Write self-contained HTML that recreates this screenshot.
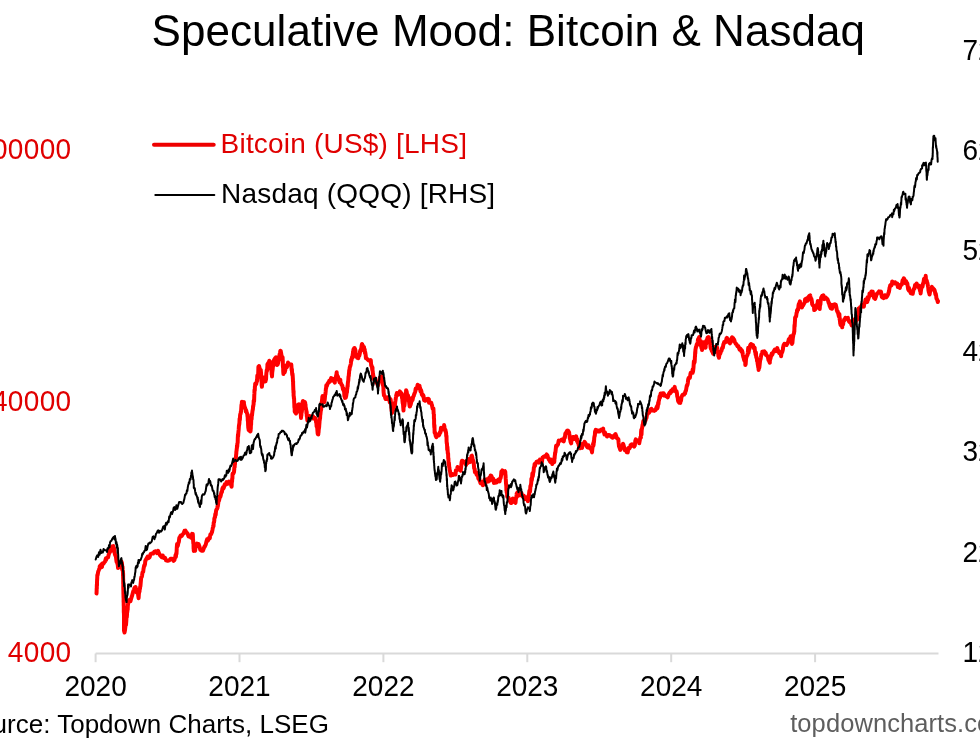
<!DOCTYPE html>
<html><head><meta charset="utf-8"><title>Speculative Mood: Bitcoin &amp; Nasdaq</title>
<style>
html,body{margin:0;padding:0;background:#fff;}
body{width:980px;height:743px;overflow:hidden;}
svg{display:block;font-family:"Liberation Sans", Arial, sans-serif;}
</style></head><body>
<svg width="980" height="743" viewBox="0 0 980 743">
<rect width="980" height="743" fill="#fff"/>
<text x="508.3" y="46.3" text-anchor="middle" font-size="44" letter-spacing="0.05" fill="#000">Speculative Mood: Bitcoin &amp; Nasdaq</text>
<path d="M95.6 653.5 H938.5" stroke="#d9d9d9" stroke-width="2" fill="none"/>
<path d="M95.6 653.5 V662.2" stroke="#d9d9d9" stroke-width="2" fill="none"/>
<path d="M239.5 653.5 V662.2" stroke="#d9d9d9" stroke-width="2" fill="none"/>
<path d="M383.4 653.5 V662.2" stroke="#d9d9d9" stroke-width="2" fill="none"/>
<path d="M527.3 653.5 V662.2" stroke="#d9d9d9" stroke-width="2" fill="none"/>
<path d="M671.2 653.5 V662.2" stroke="#d9d9d9" stroke-width="2" fill="none"/>
<path d="M815.1 653.5 V662.2" stroke="#d9d9d9" stroke-width="2" fill="none"/>
<text transform="translate(95.6 696.3) scale(1 1.06)" text-anchor="middle" font-size="28" fill="#000">2020</text>
<text transform="translate(239.5 696.3) scale(1 1.06)" text-anchor="middle" font-size="28" fill="#000">2021</text>
<text transform="translate(383.4 696.3) scale(1 1.06)" text-anchor="middle" font-size="28" fill="#000">2022</text>
<text transform="translate(527.3 696.3) scale(1 1.06)" text-anchor="middle" font-size="28" fill="#000">2023</text>
<text transform="translate(671.2 696.3) scale(1 1.06)" text-anchor="middle" font-size="28" fill="#000">2024</text>
<text transform="translate(815.1 696.3) scale(1 1.06)" text-anchor="middle" font-size="28" fill="#000">2025</text>
<text transform="translate(71.5 159.4) scale(1 1.06)" text-anchor="end" font-size="28" letter-spacing="0.35" fill="#e00000">400000</text>
<text transform="translate(71.5 411.2) scale(1 1.06)" text-anchor="end" font-size="28" letter-spacing="0.35" fill="#e00000">40000</text>
<text transform="translate(71.5 662.1) scale(1 1.06)" text-anchor="end" font-size="28" letter-spacing="0.35" fill="#e00000">4000</text>
<text transform="translate(962.5 60.2) scale(1 1.06)" font-size="28" fill="#000">725</text>
<text transform="translate(962.5 160.2) scale(1 1.06)" font-size="28" fill="#000">625</text>
<text transform="translate(962.5 259.8) scale(1 1.06)" font-size="28" fill="#000">525</text>
<text transform="translate(962.5 360.6) scale(1 1.06)" font-size="28" fill="#000">425</text>
<text transform="translate(962.5 461.3) scale(1 1.06)" font-size="28" fill="#000">325</text>
<text transform="translate(962.5 561.6) scale(1 1.06)" font-size="28" fill="#000">225</text>
<text transform="translate(962.5 662.3) scale(1 1.06)" font-size="28" fill="#000">125</text>
<path d="M154 144.8 H213.7" stroke="#ee0000" stroke-width="4" stroke-linecap="round" fill="none"/>
<path d="M155.3 195 H214.3" stroke="#000" stroke-width="2" stroke-linecap="round" fill="none"/>
<text x="220.6" y="153.1" font-size="28" letter-spacing="0.2" fill="#e00000">Bitcoin (US$) [LHS]</text>
<text x="221" y="203" font-size="28" letter-spacing="0.2" fill="#000">Nasdaq (QQQ) [RHS]</text>
<text x="-39.2" y="732.8" font-size="26" fill="#000">Source: Topdown Charts, LSEG</text>
<text x="790.2" y="732.3" font-size="25.5" letter-spacing="0.08" fill="#5e5e5e">topdowncharts.com</text>
<polyline points="96.5,593.5 96.6,592.1 96.6,592.3 96.7,588.2 96.8,588.7 96.8,586.0 96.9,584.1 97.0,585.6 97.0,582.5 97.1,580.2 97.1,579.6 97.2,578.9 97.3,576.0 97.3,575.0 97.6,575.1 98.2,571.6 98.7,570.4 99.2,569.0 99.7,568.5 99.7,566.3 101.0,564.9 102.0,567.0 102.2,563.6 102.9,564.2 103.6,563.5 104.4,562.2 105.1,561.4 105.9,558.3 106.0,560.0 106.6,558.2 107.3,557.7 108.1,557.4 108.8,554.1 109.5,552.8 110.2,549.3 111.0,549.4 111.0,551.0 112.1,546.5 113.3,546.1 113.4,549.0 113.8,550.9 114.3,548.8 114.7,553.4 115.2,555.1 115.7,555.7 116.0,557.0 116.1,558.0 116.3,559.8 116.6,562.1 116.9,562.0 117.1,562.5 117.4,563.7 117.7,564.6 118.0,567.2 118.0,568.0 118.8,565.8 119.7,567.0 120.6,562.4 121.5,563.6 121.5,561.5 121.8,563.2 122.0,563.1 122.2,569.8 122.5,566.7 122.7,569.9 122.9,571.5 123.0,573.0 123.0,576.1 123.1,573.4 123.1,577.9 123.1,577.8 123.2,579.6 123.2,580.5 123.2,583.7 123.3,583.2 123.3,585.6 123.3,587.9 123.4,591.8 123.4,588.0 123.4,593.5 123.5,595.3 123.5,594.9 123.5,597.0 123.6,597.5 123.6,601.7 123.6,602.0 123.7,602.6 123.7,603.8 123.7,605.2 123.8,606.7 123.8,607.2 123.8,612.6 123.9,609.7 123.9,607.5 123.9,612.7 124.0,615.3 124.0,617.0 124.0,617.9 124.0,618.9 124.0,620.3 124.0,622.5 124.0,625.1 124.0,624.9 124.0,626.0 124.0,630.6 124.0,631.1 124.0,631.0 124.0,630.0 124.5,632.5 125.0,630.1 125.4,626.4 125.9,623.5 126.0,625.0 126.1,623.7 126.3,621.1 126.4,618.9 126.5,616.9 126.7,616.4 126.8,617.4 127.0,614.5 127.1,611.2 127.3,612.1 127.4,610.5 127.5,610.1 127.7,609.4 127.8,606.2 128.0,604.2 128.0,604.0 128.5,602.9 129.2,600.0 129.9,600.7 130.5,601.0 131.2,598.5 131.9,596.2 132.0,596.0 132.4,594.5 133.0,592.2 133.5,590.6 134.0,589.6 134.5,587.8 135.0,588.0 135.1,587.1 135.6,587.0 136.1,590.7 136.6,592.4 137.1,592.2 137.7,591.5 138.2,595.5 138.5,597.5 138.6,598.2 138.8,594.8 139.0,593.1 139.3,591.5 139.5,591.6 139.7,588.4 139.9,589.1 140.2,586.5 140.4,586.4 140.6,584.0 140.8,581.9 141.1,578.5 141.3,577.6 141.5,576.8 141.7,576.5 141.8,576.9 142.1,575.3 142.5,572.5 142.8,572.2 143.2,571.9 143.5,569.1 143.9,566.9 144.2,565.3 144.6,565.5 145.0,564.1 145.3,560.6 145.7,560.4 145.7,560.0 146.6,558.4 147.6,556.6 148.6,558.1 149.6,557.2 150.6,554.0 151.0,554.0 151.7,553.6 153.1,553.6 154.4,551.6 155.8,551.2 156.0,551.5 157.0,553.1 158.1,550.9 159.3,553.9 160.5,556.0 161.0,555.5 161.6,557.1 162.7,555.5 163.8,558.0 165.0,557.8 166.0,560.0 166.1,560.4 167.6,560.8 169.1,560.3 170.0,559.6 170.6,558.8 172.1,558.7 173.6,560.8 174.5,560.0 174.6,558.4 174.9,558.4 175.2,557.3 175.6,554.9 175.9,556.9 176.2,553.2 176.5,554.0 176.8,547.4 177.1,544.0 177.4,546.5 177.7,545.0 177.8,545.8 178.3,543.2 178.8,541.9 179.3,537.9 179.8,537.5 180.4,535.8 180.9,535.4 181.0,536.0 181.7,536.1 182.7,534.3 183.6,533.4 184.5,530.8 185.0,531.0 185.5,530.7 186.5,532.6 187.5,533.4 188.5,536.5 189.5,536.0 189.5,535.3 190.8,537.6 192.1,533.8 192.8,534.0 192.8,535.9 192.9,535.5 193.0,539.7 193.1,540.0 193.2,541.4 193.3,543.4 193.4,543.1 193.5,543.5 193.5,543.3 193.6,548.8 193.7,548.9 193.8,551.0 193.9,549.8 194.5,549.2 195.1,550.8 195.7,545.2 196.3,545.3 197.0,543.5 197.0,544.0 197.8,545.8 198.6,544.1 199.4,546.4 200.3,549.7 200.3,549.0 201.6,550.8 203.0,550.7 204.3,546.8 204.6,547.0 205.1,545.9 205.8,544.4 206.5,541.3 207.1,539.3 207.8,540.6 207.8,540.8 208.5,539.6 209.1,537.8 209.8,538.2 210.4,534.3 211.1,534.3 211.8,532.6 212.0,532.0 212.2,531.0 212.4,530.2 212.7,528.5 213.0,527.1 213.2,525.7 213.5,526.5 213.7,522.6 214.0,522.3 214.3,520.5 214.3,519.0 214.6,517.7 215.0,517.4 215.3,514.0 215.7,514.8 216.0,511.2 216.4,509.6 216.8,509.2 217.1,508.8 217.5,507.8 217.5,506.0 217.8,506.4 218.2,503.4 218.6,500.5 219.0,500.7 219.3,499.4 219.7,497.5 219.7,496.2 220.3,497.0 220.8,495.2 221.4,492.0 221.9,492.1 222.4,488.6 223.0,487.3 223.0,489.0 223.8,487.8 224.7,484.4 225.5,484.7 226.0,484.6 226.5,482.1 227.7,483.7 228.9,481.5 229.0,482.4 229.7,483.6 230.5,482.8 231.2,485.1 231.5,486.7 231.6,486.7 231.7,485.2 231.8,480.5 232.0,481.9 232.1,481.2 232.2,478.2 232.4,478.7 232.5,474.4 232.6,474.0 232.7,473.4 233.1,473.8 233.5,473.2 234.0,472.0 234.4,467.3 234.7,467.0 234.7,463.9 234.9,464.8 235.1,461.5 235.3,461.3 235.4,458.6 235.6,460.0 235.8,459.0 235.9,457.4 236.1,455.1 236.3,453.4 236.3,453.0 236.4,451.3 236.6,450.6 236.7,449.2 236.9,448.0 237.0,445.4 237.2,446.8 237.4,443.9 237.5,443.5 237.7,442.3 237.8,437.8 238.0,434.3 238.1,436.3 238.3,433.5 238.4,432.3 238.6,430.5 238.7,429.4 238.9,426.2 239.0,425.7 239.2,424.0 239.2,424.7 239.4,423.1 239.6,418.5 239.7,420.5 239.9,419.4 240.1,415.1 240.3,414.2 240.5,413.9 240.7,413.7 240.8,411.7 241.0,412.0 241.2,409.1 241.4,405.8 241.6,404.2 241.8,404.6 241.9,401.8 242.0,402.0 243.0,403.0 243.9,402.0 244.0,404.3 244.3,405.4 244.6,407.3 244.9,407.3 245.2,408.5 245.5,409.1 245.8,410.3 245.8,411.5 246.2,410.3 246.7,412.7 247.2,413.7 247.6,417.0 247.6,414.5 247.7,418.0 247.8,420.6 248.0,421.3 248.1,424.9 248.2,426.5 248.3,428.1 248.4,427.3 248.5,426.9 248.6,430.0 249.1,430.4 250.4,431.4 250.5,431.0 250.6,430.7 250.7,429.0 250.8,428.6 250.9,425.3 251.1,424.6 251.2,421.1 251.3,417.1 251.4,417.4 251.4,419.0 251.6,419.2 251.8,414.3 252.0,415.5 252.3,412.5 252.5,410.9 252.7,410.0 252.9,409.0 253.1,405.9 253.3,406.0 253.3,405.5 253.5,404.8 253.6,404.1 253.7,400.6 253.9,401.7 254.0,401.5 254.1,401.1 254.3,394.7 254.4,393.9 254.5,389.7 254.7,390.6 254.8,390.0 254.9,386.4 255.0,387.0 255.2,383.7 255.7,384.4 256.2,384.3 256.7,381.2 257.0,381.4 257.1,380.0 257.3,375.5 257.5,375.6 257.7,375.8 257.9,374.8 258.1,375.5 258.3,370.8 258.4,366.8 258.6,368.4 258.8,366.3 259.0,366.0 259.1,366.3 259.7,368.6 260.3,370.1 260.8,370.0 260.8,372.7 260.9,374.4 261.0,371.8 261.1,374.3 261.2,378.9 261.3,378.0 261.4,380.7 261.5,381.1 261.6,381.8 261.7,385.9 261.8,385.0 261.9,386.8 262.2,383.5 262.6,383.2 262.9,378.9 263.3,377.4 263.6,377.6 263.7,378.6 264.3,379.4 265.0,379.0 265.5,381.4 265.5,381.2 265.7,380.0 265.9,380.0 266.1,378.4 266.2,375.2 266.4,372.9 266.6,371.7 266.7,370.1 266.9,371.0 267.1,370.4 267.2,368.8 267.4,365.9 267.4,364.5 268.0,363.3 268.7,363.2 269.3,360.7 269.3,360.8 269.6,362.6 269.9,361.6 270.2,364.0 270.5,368.4 270.8,367.3 271.1,367.3 271.4,370.2 271.7,374.7 272.0,374.0 272.0,376.5 272.2,372.7 272.5,370.4 272.7,369.1 272.9,366.6 273.1,366.1 273.4,364.5 273.6,361.3 273.8,360.6 274.0,360.7 274.1,359.8 275.2,358.1 275.9,358.8 276.0,357.2 276.5,361.3 276.9,365.0 277.4,364.0 277.7,364.5 277.8,363.6 278.1,363.1 278.4,360.9 278.8,358.5 279.1,359.8 279.4,355.7 279.7,353.9 280.1,352.4 280.4,350.7 280.6,351.3 280.7,350.9 281.2,353.7 281.7,356.8 282.2,357.6 282.5,357.0 282.5,358.0 282.6,357.4 282.7,359.9 282.8,360.5 282.8,362.9 282.9,366.1 283.0,367.1 283.1,367.8 283.2,368.4 283.2,370.6 283.3,372.5 283.4,372.7 283.4,374.0 284.0,371.6 284.7,372.3 285.3,370.0 285.3,367.9 285.8,367.3 286.3,365.2 286.8,367.3 287.4,365.7 287.9,364.1 288.0,362.6 289.0,364.1 290.2,364.7 291.0,364.5 291.1,365.7 291.3,364.5 291.5,367.8 291.7,370.3 291.9,369.2 292.1,373.1 292.3,375.1 292.5,373.7 292.7,375.8 292.8,377.6 292.8,377.7 292.9,379.0 293.0,381.7 293.1,381.2 293.1,383.6 293.2,386.0 293.3,388.5 293.3,389.3 293.4,390.2 293.5,392.8 293.6,390.9 293.6,395.5 293.7,396.2 293.7,396.5 293.8,396.1 293.9,398.3 294.0,398.0 294.1,398.7 294.2,402.3 294.3,403.9 294.4,407.5 294.5,407.3 294.6,407.8 294.7,409.4 294.7,411.5 296.1,413.5 296.6,411.8 296.9,411.4 297.3,408.7 297.8,406.4 298.2,404.5 298.7,404.3 298.7,405.0 298.9,406.7 299.2,409.5 299.5,411.4 299.7,411.8 300.0,411.6 300.2,412.3 300.5,411.5 300.8,414.2 301.0,418.0 301.0,417.7 301.2,415.8 301.4,415.2 301.5,411.6 301.7,412.6 301.9,411.0 302.1,409.1 302.2,408.0 302.4,403.0 302.6,402.8 302.8,401.2 302.9,403.5 303.0,401.0 303.8,402.0 304.9,402.1 305.2,403.0 305.3,405.1 305.5,404.4 305.7,408.7 305.9,408.0 306.1,409.8 306.3,410.2 306.5,413.7 306.7,411.7 306.8,416.1 307.0,416.3 307.2,418.7 307.4,420.4 307.4,418.7 308.1,418.8 308.7,417.9 309.4,417.2 309.5,416.0 310.7,416.7 312.2,417.1 312.7,416.0 313.2,418.5 314.0,418.1 314.7,417.7 315.5,418.4 316.0,421.5 316.1,422.3 316.4,423.1 316.6,426.3 316.9,426.9 317.1,426.7 317.4,430.3 317.7,433.9 317.9,433.0 318.2,432.7 318.3,434.4 318.4,431.9 318.5,432.8 318.7,429.9 318.9,428.2 319.0,428.2 319.2,426.2 319.3,424.7 319.5,422.3 319.6,420.4 319.8,419.9 319.9,418.7 320.1,417.9 320.2,415.1 320.4,414.4 320.5,413.3 320.7,411.4 320.7,411.0 320.9,410.5 321.1,409.8 321.3,407.4 321.4,405.5 321.6,402.4 321.8,402.2 322.0,400.6 322.2,398.7 322.4,396.4 322.6,396.6 322.6,395.9 323.0,400.7 323.5,400.2 323.9,400.5 324.4,402.1 324.5,401.5 324.7,399.6 324.8,398.7 325.0,396.3 325.2,394.6 325.4,394.2 325.5,393.1 325.7,391.2 325.9,388.7 326.1,388.3 326.3,385.3 326.3,386.5 326.8,386.1 327.5,383.8 328.2,382.7 328.9,382.5 329.2,380.8 329.9,381.5 331.1,378.1 332.0,379.0 332.3,378.6 333.2,380.8 334.1,380.3 334.8,382.7 334.9,378.6 335.1,379.7 335.4,379.0 335.7,378.4 335.9,376.7 336.2,375.3 336.5,374.0 336.7,372.3 336.8,374.6 337.2,375.3 337.6,376.6 338.0,376.7 338.4,379.8 338.6,379.0 339.0,379.9 339.6,382.1 340.3,379.7 340.5,382.7 341.0,383.3 341.7,384.8 342.3,385.7 343.0,389.3 343.3,388.3 343.5,390.2 343.8,390.7 344.1,391.4 344.4,396.0 344.7,396.8 345.0,397.9 345.2,397.7 345.3,396.8 345.7,397.7 346.2,395.9 346.6,393.2 347.0,392.0 347.0,391.6 347.2,387.9 347.3,388.9 347.5,385.8 347.7,386.5 347.8,383.9 348.0,381.8 348.1,381.5 348.3,380.1 348.5,376.8 348.6,376.3 348.8,376.0 348.9,373.7 349.0,373.3 349.2,370.4 349.5,369.9 349.7,367.8 350.0,366.6 350.3,366.1 350.6,364.8 350.8,363.9 350.9,363.2 351.2,359.6 351.5,360.3 351.8,358.7 352.1,356.9 352.4,356.2 352.7,357.4 352.7,354.5 353.1,352.2 353.5,349.3 353.9,350.7 354.3,347.9 354.6,347.9 354.7,349.9 355.0,348.9 355.4,350.3 355.7,353.6 356.0,355.7 356.4,356.7 356.5,356.3 357.1,357.9 358.1,358.1 358.3,358.2 358.6,356.4 359.0,355.1 359.3,355.7 359.7,354.1 360.1,351.7 360.2,350.7 360.5,350.3 360.8,349.6 361.2,348.9 361.6,345.8 362.0,344.0 362.0,344.1 362.9,345.8 363.7,350.3 364.0,347.0 364.2,349.4 364.4,351.6 364.7,349.4 364.9,353.1 365.2,352.1 365.4,353.3 365.7,355.3 365.9,358.2 366.0,357.6 367.2,359.1 368.5,360.4 368.7,360.0 370.0,360.5 370.6,360.0 370.8,360.4 371.2,365.7 371.5,365.3 371.9,366.6 372.3,369.9 372.5,367.6 372.5,370.4 372.7,371.1 372.8,372.0 372.9,375.5 373.0,373.5 373.1,374.1 373.2,376.8 373.4,375.7 373.4,379.0 374.2,377.8 375.3,381.8 375.3,380.8 376.1,381.7 377.0,383.3 377.9,385.4 378.0,384.6 378.4,382.1 378.9,381.9 379.4,379.7 380.0,377.4 380.0,379.0 380.8,377.0 381.6,376.3 381.9,376.3 382.0,376.7 382.2,377.7 382.4,381.3 382.5,383.7 382.7,384.7 382.9,385.1 383.0,384.9 383.2,386.2 383.4,387.3 383.5,390.5 383.7,393.4 383.8,393.3 383.9,395.3 384.4,395.6 384.8,396.2 385.3,398.2 385.6,399.0 386.0,398.9 387.2,398.8 388.5,399.3 388.5,397.0 389.1,398.1 389.8,402.5 390.3,400.8 390.3,399.0 390.6,399.4 390.8,401.0 391.1,403.2 391.3,405.9 391.6,411.0 391.8,409.7 392.1,412.9 392.2,412.0 392.5,411.1 393.0,409.9 393.5,407.0 394.0,409.6 394.1,406.5 394.3,406.2 394.6,403.4 394.9,405.5 395.2,402.2 395.5,400.5 395.8,398.2 396.0,397.0 396.2,395.5 396.9,393.0 397.5,393.1 397.9,393.3 398.4,394.7 399.5,392.9 399.8,391.4 400.5,392.3 401.5,394.7 401.6,393.3 401.8,393.9 402.0,397.8 402.2,398.2 402.3,398.2 402.5,401.3 402.7,403.1 402.9,403.4 403.1,405.4 403.3,408.0 403.5,410.5 403.5,408.3 403.8,406.6 404.1,401.8 404.4,405.8 404.7,402.8 405.0,400.6 405.3,400.1 405.4,399.0 405.5,397.7 405.6,398.0 405.8,393.9 406.0,393.0 406.1,390.3 406.3,392.3 406.3,390.5 406.7,391.8 407.1,394.7 407.5,397.0 407.9,395.1 408.2,397.0 408.3,396.9 408.6,399.8 408.8,400.7 409.1,401.8 409.4,404.5 409.7,406.5 410.0,406.0 410.0,406.5 410.3,404.9 410.7,404.6 411.1,402.9 411.5,401.2 411.9,398.0 412.0,399.0 412.5,400.1 413.1,397.0 413.8,395.8 413.9,395.2 414.3,394.0 414.8,392.7 415.3,391.4 415.7,388.6 415.8,389.5 416.3,388.5 416.8,388.6 417.3,386.6 417.6,384.8 418.3,386.5 419.5,385.8 419.5,387.0 420.0,387.7 420.5,391.4 421.0,390.0 421.4,391.4 421.5,392.1 421.9,394.6 422.4,395.3 422.9,394.7 423.3,397.0 423.4,395.4 424.1,400.2 424.8,399.1 425.2,400.8 425.6,400.2 426.6,400.0 427.0,399.0 427.5,400.2 428.2,398.8 428.9,399.2 429.0,402.7 430.1,402.3 431.3,402.9 431.7,404.6 431.9,404.8 432.3,406.9 432.7,408.7 433.1,408.1 433.4,408.5 433.6,412.0 433.6,413.3 433.7,413.6 433.8,414.0 433.9,414.0 433.9,418.6 434.0,418.5 434.1,419.8 434.1,423.6 434.2,425.3 434.3,427.3 434.4,426.3 434.4,424.9 434.5,428.1 434.6,431.1 434.6,432.8 435.1,432.4 435.7,435.9 436.4,437.2 436.5,436.6 437.6,434.7 438.8,435.5 439.3,434.7 439.6,433.8 440.1,431.7 440.5,432.4 441.0,427.7 441.2,429.0 441.9,429.3 443.1,429.4 444.0,427.0 444.1,425.1 444.6,427.9 445.1,429.8 445.5,430.0 445.9,432.8 445.9,431.8 446.1,433.1 446.2,435.8 446.4,436.7 446.5,435.9 446.6,441.3 446.8,443.6 446.9,442.9 447.1,446.1 447.2,449.7 447.4,446.8 447.5,448.6 447.6,450.0 447.7,451.6 447.8,453.0 447.9,453.8 448.1,453.5 448.2,458.2 448.4,458.4 448.5,461.0 448.7,465.0 448.8,462.7 448.8,463.0 449.0,463.9 449.2,467.1 449.4,467.6 449.6,469.7 449.8,470.2 449.9,470.6 450.8,475.6 451.7,474.9 452.6,474.0 452.6,475.1 454.1,474.5 455.4,474.0 455.5,474.5 455.9,470.3 456.4,470.0 456.9,470.3 457.3,468.3 457.5,467.0 458.7,468.9 460.0,469.9 460.1,470.2 460.4,468.1 460.7,470.7 461.0,467.9 461.3,465.6 461.6,462.2 461.8,461.4 462.0,460.8 462.6,460.8 463.8,461.8 464.8,462.7 465.0,462.7 466.1,465.0 466.7,460.8 467.2,463.3 468.3,462.6 468.6,459.0 469.3,461.1 470.3,462.0 471.4,456.6 471.4,456.0 471.9,455.7 472.5,458.5 473.0,460.4 473.3,460.8 473.4,461.7 473.7,462.2 473.9,465.2 474.2,468.6 474.4,468.6 474.7,469.0 474.9,472.1 475.2,472.0 475.2,472.0 475.9,472.7 476.7,474.8 477.0,475.0 477.5,472.6 478.4,478.7 479.0,477.7 479.2,478.6 479.6,480.5 480.1,481.8 480.5,483.3 480.8,483.4 481.4,481.8 482.7,483.4 482.8,485.2 483.5,483.3 484.1,481.4 484.6,479.6 485.0,484.3 486.5,479.6 486.5,479.3 487.6,481.6 488.3,481.5 488.5,481.3 489.2,477.7 489.9,480.6 490.6,475.6 491.2,475.9 491.2,475.7 491.9,477.1 492.6,478.9 493.3,478.8 493.9,482.9 494.0,481.5 495.3,482.7 496.7,480.8 496.8,482.4 498.1,479.8 499.6,481.3 499.6,481.5 500.0,478.4 500.3,478.7 500.7,477.7 501.1,475.1 501.4,471.4 501.5,474.0 502.3,470.4 503.4,471.7 503.4,472.0 504.9,471.2 505.3,472.0 505.4,475.4 505.5,474.7 505.6,476.6 505.7,478.7 505.8,479.5 505.9,481.1 506.0,483.6 506.1,483.8 506.2,485.6 506.2,485.3 506.3,486.2 506.4,490.7 506.6,490.6 506.7,492.5 506.8,488.8 507.0,492.2 507.1,493.4 507.2,496.6 507.4,496.4 508.0,497.5 508.7,498.0 509.0,500.3 509.6,499.9 510.7,502.8 511.0,502.2 511.4,503.0 512.1,499.7 512.7,500.0 512.8,498.4 513.4,499.1 514.1,501.7 514.7,502.2 514.7,501.2 515.1,501.9 515.5,502.8 515.9,498.5 516.2,498.3 516.6,495.0 516.7,493.5 517.5,492.3 518.4,495.8 518.5,492.2 519.4,494.0 520.3,494.0 520.4,495.1 521.5,493.3 522.2,496.0 522.6,495.6 523.8,495.8 525.0,497.9 525.0,499.2 526.5,497.6 527.9,497.9 527.9,501.2 528.4,495.9 528.9,495.2 529.4,490.8 529.8,492.2 529.8,490.7 530.0,491.9 530.2,489.3 530.4,485.9 530.6,486.3 530.8,486.0 531.0,484.2 531.2,483.4 531.4,478.7 531.6,479.0 531.7,480.8 532.0,478.9 532.4,473.3 532.8,476.2 533.2,472.8 533.5,471.5 533.5,472.1 533.9,467.4 534.3,466.9 534.6,464.0 535.0,465.9 535.4,463.9 535.4,464.0 536.5,461.9 537.7,461.4 538.2,462.0 538.9,462.7 539.9,459.6 540.1,460.2 541.0,461.7 542.0,462.0 542.1,460.4 542.5,457.7 543.0,457.5 543.5,456.7 543.9,456.5 544.2,456.3 545.4,456.8 546.7,454.4 546.7,454.6 547.4,455.3 548.1,458.1 548.6,458.3 548.7,459.4 549.4,460.1 550.1,461.6 550.5,462.0 550.9,459.5 551.9,462.0 552.3,464.0 553.0,460.6 554.0,460.9 554.2,462.0 554.3,461.7 554.5,457.2 554.6,458.5 554.8,455.7 555.0,454.4 555.1,452.6 555.2,452.7 555.4,452.6 555.7,449.7 556.1,445.8 556.4,447.0 556.8,445.7 557.0,445.2 557.3,445.4 558.0,444.4 558.7,440.6 559.0,441.4 559.7,440.8 560.9,440.2 561.7,439.5 562.1,439.8 563.1,441.1 563.6,441.4 563.8,441.1 564.2,438.5 564.5,437.3 564.9,437.5 565.3,433.6 565.5,433.9 565.9,433.0 567.0,430.9 567.4,432.0 568.1,430.7 569.1,432.5 569.3,433.9 569.5,435.0 569.8,438.7 570.1,438.4 570.4,440.9 570.7,442.2 571.0,442.9 571.2,443.3 571.4,438.5 571.8,440.2 572.3,439.6 572.8,436.9 573.0,437.6 573.6,437.1 575.1,438.9 575.9,436.7 576.1,436.3 576.5,437.7 577.0,441.1 577.4,439.4 577.8,442.8 577.9,440.9 578.5,444.2 579.2,447.0 579.6,446.6 580.0,448.3 581.0,446.8 582.1,447.8 582.5,443.7 583.3,444.9 584.3,442.8 584.6,441.8 585.7,443.5 586.2,444.7 586.6,446.0 587.5,447.3 588.1,447.5 588.4,445.2 589.8,448.1 590.0,448.4 590.7,448.3 591.5,450.1 591.9,451.3 592.0,452.4 592.3,449.4 592.6,446.7 592.9,445.7 593.1,443.6 593.4,445.7 593.7,443.6 593.8,441.0 594.0,442.1 594.2,438.3 594.5,436.2 594.8,435.8 595.1,431.3 595.3,433.4 595.6,431.5 595.7,429.8 597.1,430.4 597.5,430.6 598.4,431.4 599.4,431.5 599.7,430.2 600.8,430.3 601.3,429.6 602.0,430.3 603.2,428.7 603.3,431.8 603.9,431.6 604.5,434.5 605.0,432.5 605.3,434.4 606.1,434.3 607.0,435.3 607.0,436.6 608.5,435.0 609.8,435.3 610.0,435.5 611.3,437.0 611.6,436.2 612.7,437.7 614.2,436.3 614.5,435.3 615.5,434.1 616.3,436.2 616.7,438.0 617.5,438.6 618.2,439.0 618.2,439.0 618.4,439.5 618.6,442.7 618.8,444.3 619.0,446.3 619.2,446.6 619.3,446.8 620.3,449.9 621.0,448.4 621.2,448.2 621.8,447.2 622.4,445.6 623.0,445.4 623.0,443.7 623.4,444.6 623.8,446.0 624.2,447.5 624.6,448.4 624.8,450.3 625.2,449.5 626.3,449.7 626.7,452.2 627.1,451.8 627.8,452.3 628.4,448.0 628.6,448.4 629.4,448.5 630.5,446.6 630.5,445.2 631.9,444.3 632.3,445.6 633.2,445.2 634.2,446.6 634.3,446.2 634.8,445.5 635.3,440.9 635.8,439.4 636.1,441.0 636.5,440.3 638.0,440.5 639.0,441.0 639.2,443.3 639.9,439.6 640.5,437.0 640.8,437.2 640.9,437.8 641.1,431.6 641.3,429.8 641.5,434.6 641.7,430.4 641.8,429.3 641.9,429.0 642.2,427.3 642.6,424.7 642.9,424.0 643.3,421.1 643.6,421.7 643.6,422.4 644.6,421.8 645.5,420.6 646.4,417.2 646.5,418.0 647.1,413.8 647.8,413.9 648.4,412.1 649.1,412.7 649.3,412.3 650.1,409.5 651.4,408.9 652.1,410.4 652.7,410.0 654.2,410.9 655.0,410.4 655.5,410.2 656.6,407.1 656.8,408.6 657.1,406.0 657.4,408.4 657.8,406.6 658.2,402.5 658.5,404.1 658.7,401.0 658.9,400.7 659.3,398.9 659.6,396.2 660.0,397.6 660.4,395.0 660.6,393.5 661.1,393.9 662.3,393.4 663.4,395.4 663.6,393.3 665.0,395.5 666.2,396.3 666.4,396.0 667.7,397.4 668.9,393.8 669.0,394.4 669.7,392.5 670.4,393.0 671.0,390.7 671.2,392.1 672.5,389.4 672.8,389.7 673.4,390.7 674.3,388.8 674.7,386.9 675.0,389.2 675.5,389.9 676.1,392.0 676.6,391.6 676.6,391.7 676.9,392.9 677.2,396.1 677.5,397.1 677.8,398.4 678.1,400.9 678.4,401.5 678.5,401.0 679.2,402.6 680.3,400.0 680.3,402.9 680.7,399.9 681.0,400.7 681.4,397.5 681.8,396.4 682.1,395.8 682.2,395.4 683.1,394.4 684.1,394.6 685.0,392.6 685.1,393.3 685.5,391.0 685.9,391.0 686.4,388.0 686.8,385.6 687.0,386.0 687.2,385.3 687.5,384.6 687.9,382.3 688.2,379.3 688.6,378.1 688.8,378.4 689.0,377.8 689.5,377.4 689.9,377.8 690.4,374.2 690.7,372.8 691.3,372.7 692.6,372.8 692.6,369.5 692.9,371.9 693.1,371.1 693.4,368.6 693.6,365.8 693.9,361.2 694.1,363.5 694.4,361.1 694.5,361.5 694.6,362.5 694.7,360.8 694.8,360.0 694.9,356.7 695.0,356.5 695.2,351.8 695.3,353.3 695.4,350.7 695.4,350.2 695.9,347.3 696.3,346.4 696.8,344.3 697.3,344.6 697.3,344.4 697.7,342.0 698.0,339.5 698.4,339.1 698.8,338.1 699.1,337.4 699.2,337.0 699.5,339.2 699.8,341.7 700.2,342.3 700.5,345.2 700.9,341.3 701.0,344.6 701.2,344.6 701.4,348.0 701.7,346.9 702.0,349.2 702.0,350.0 702.3,348.7 702.7,345.0 703.0,344.3 703.4,344.7 703.8,342.5 703.9,342.2 704.5,344.8 705.6,347.7 705.8,344.0 706.2,343.9 706.6,340.1 707.1,339.5 707.6,337.6 707.6,338.4 708.6,337.1 709.5,340.3 709.5,339.2 709.8,340.9 710.1,342.6 710.4,345.9 710.7,348.2 711.0,348.9 711.3,349.1 711.4,349.7 711.9,351.2 712.6,352.2 713.2,353.7 713.3,353.5 714.3,351.3 715.2,351.6 715.3,346.8 715.9,349.9 716.6,347.9 717.0,347.9 717.1,347.5 717.4,349.6 717.7,351.2 718.1,352.4 718.4,356.3 718.7,356.5 719.0,357.8 719.0,357.3 719.4,354.9 719.9,354.0 720.3,353.6 720.8,351.7 720.8,351.6 721.5,350.8 722.2,347.8 722.7,347.9 722.8,347.8 723.3,344.8 723.7,343.7 724.2,342.0 724.6,342.2 724.7,341.8 725.4,342.1 726.1,340.1 726.5,338.4 726.9,337.8 727.9,339.8 728.3,340.3 729.0,342.4 730.0,343.4 730.2,342.2 730.8,342.2 731.4,338.5 732.1,337.3 732.1,338.4 733.2,338.2 734.0,340.3 734.1,339.5 734.8,341.9 735.5,343.3 735.9,344.0 736.3,344.0 737.4,346.2 737.8,346.0 738.2,346.0 738.8,347.4 739.5,349.4 739.6,349.7 740.5,348.7 741.5,351.6 741.5,349.9 742.0,350.6 742.5,352.3 742.9,355.1 743.4,357.3 743.4,356.9 743.9,359.1 744.4,360.8 744.8,360.2 745.3,363.0 745.3,365.1 745.7,364.0 746.0,359.1 746.4,357.3 746.8,356.1 747.1,355.6 747.2,355.4 747.5,355.0 747.8,353.0 748.2,347.8 748.5,352.8 748.9,350.4 749.0,347.9 749.5,348.8 750.2,345.1 750.8,344.3 751.0,344.0 752.0,345.8 752.8,345.0 753.1,345.2 753.9,348.2 754.7,347.9 754.7,348.6 755.0,351.8 755.3,351.7 755.6,354.7 755.9,352.4 756.2,356.9 756.5,357.9 756.6,357.3 756.8,358.1 757.1,361.2 757.4,361.3 757.7,363.9 758.0,365.8 758.3,367.6 758.5,366.7 758.6,369.9 759.0,367.8 759.3,367.7 759.7,364.2 760.0,361.3 760.3,359.2 760.4,359.8 760.8,357.8 761.3,354.5 761.8,354.4 762.2,353.5 762.3,351.6 763.4,351.4 764.1,351.6 764.4,351.4 765.1,352.4 765.8,352.9 766.0,355.0 766.8,355.4 767.8,356.8 767.9,357.0 768.5,360.1 769.1,361.0 769.8,362.7 769.8,361.0 770.2,359.5 770.7,357.7 771.2,354.9 771.6,355.5 771.7,353.6 772.3,354.5 773.0,352.5 773.5,351.7 773.8,351.2 774.8,349.5 775.4,349.8 775.9,351.2 777.0,348.8 777.3,348.0 777.8,350.7 778.5,350.8 779.2,353.1 779.2,351.7 779.8,352.1 780.5,352.2 781.0,355.5 781.1,356.2 781.4,353.7 781.8,352.7 782.2,352.2 782.6,350.8 783.0,348.8 783.0,348.0 783.6,345.2 784.3,343.9 784.8,344.2 785.1,343.8 786.6,345.0 786.7,344.2 787.3,343.9 788.0,342.4 788.6,340.4 788.7,339.5 789.3,338.7 790.0,338.9 790.5,336.7 790.6,336.3 791.1,337.5 791.6,340.9 792.0,343.9 792.3,342.3 792.4,343.0 792.6,340.7 792.9,337.6 793.1,336.8 793.4,334.5 793.6,334.1 793.9,333.8 794.1,332.3 794.2,331.0 794.3,332.0 794.4,327.6 794.5,324.9 794.6,326.7 794.7,325.7 794.9,321.6 795.0,320.9 795.1,317.9 795.2,317.4 795.2,317.9 795.6,316.8 796.1,316.5 796.6,312.7 797.0,312.2 797.0,310.2 797.4,310.9 797.8,308.9 798.2,309.7 798.5,305.4 798.9,303.7 799.0,304.7 799.9,301.4 800.8,306.6 800.9,306.8 802.0,307.4 802.7,304.7 803.0,305.5 804.1,303.3 804.6,302.8 805.1,299.4 806.2,298.5 806.5,301.0 807.0,298.4 807.6,300.8 808.3,299.2 808.3,297.2 809.3,295.9 810.2,295.3 810.3,296.1 810.6,297.9 811.0,299.4 811.4,298.9 811.7,300.4 812.1,302.8 812.1,303.9 812.8,305.4 813.4,305.4 814.0,306.6 814.2,310.1 815.3,309.2 815.9,308.4 816.1,307.6 816.4,307.5 816.8,306.4 817.2,303.7 817.6,304.6 817.8,301.0 817.9,303.8 818.3,303.7 818.6,305.6 819.0,307.2 819.3,307.3 819.6,308.4 819.7,309.0 819.9,306.1 820.2,304.6 820.4,304.4 820.7,300.6 820.9,299.7 821.2,297.5 821.4,298.2 821.5,297.2 822.2,295.8 823.3,297.8 823.4,295.3 824.3,299.1 825.3,297.2 825.4,297.2 826.5,298.5 827.2,299.0 827.4,299.1 828.1,300.7 828.7,303.1 829.0,302.8 829.6,305.7 830.7,308.1 831.0,304.7 832.0,308.7 833.4,304.9 833.8,305.6 834.8,304.3 835.6,304.7 835.8,304.8 836.1,306.2 836.5,308.2 836.9,310.6 837.2,310.8 837.5,312.2 837.8,311.6 838.9,316.5 839.4,314.0 839.5,316.6 839.7,319.8 839.8,318.0 840.0,321.2 840.2,323.7 840.3,321.6 840.5,324.9 841.0,323.4 841.4,325.7 841.9,325.6 842.2,327.3 842.3,324.9 842.7,324.7 843.1,324.4 843.4,322.2 843.8,320.7 844.1,319.7 844.3,320.4 845.4,317.8 846.0,317.9 846.7,318.3 847.9,317.9 848.0,319.3 848.7,320.7 849.4,322.0 849.8,321.6 850.1,321.1 850.7,322.8 851.3,324.1 851.6,325.4 852.0,325.4 852.7,321.1 853.3,321.5 853.5,321.6 854.6,319.3 855.4,321.6 855.9,321.3 857.0,319.4 857.3,319.7 857.4,318.5 857.6,318.4 857.8,318.4 858.0,313.7 858.1,312.7 858.2,312.2 858.6,308.6 859.3,308.9 860.0,307.4 860.1,308.4 860.7,307.8 861.4,306.0 862.0,304.7 862.1,304.9 863.1,304.3 863.9,306.6 864.0,305.3 864.5,303.0 865.0,302.9 865.5,299.6 865.8,301.0 866.0,300.2 866.7,300.7 867.3,301.9 867.6,297.2 868.0,299.8 868.6,298.0 869.3,295.8 869.5,293.4 870.2,295.5 871.3,292.4 871.4,291.5 872.0,293.5 872.7,291.7 873.3,295.3 873.3,294.0 874.0,297.9 874.7,296.1 875.2,299.0 875.3,298.4 875.8,297.1 876.3,295.2 876.7,294.6 877.0,293.4 877.5,293.4 879.0,291.4 880.0,292.7 880.2,292.6 881.0,291.7 881.8,297.0 882.5,297.4 882.8,297.4 883.6,298.2 884.9,295.2 885.7,295.5 886.1,297.4 887.1,296.2 888.2,294.1 888.5,292.7 888.8,292.3 889.1,290.9 889.5,288.0 889.9,286.9 890.2,285.4 890.4,285.1 890.7,284.8 891.4,285.4 892.0,284.0 892.2,281.4 893.3,282.8 894.7,283.4 895.0,282.3 895.6,283.3 896.4,283.9 897.2,283.5 897.9,287.0 898.0,284.6 899.4,285.4 899.8,288.0 900.2,286.3 900.7,285.2 901.2,284.7 901.7,284.6 902.2,282.9 902.6,280.4 902.9,280.3 903.8,278.3 904.0,278.6 904.3,279.1 904.8,281.8 905.2,281.5 905.4,283.3 906.1,281.2 907.3,284.2 907.3,283.3 907.8,287.0 908.2,289.3 908.6,290.1 909.0,287.9 909.2,290.8 909.7,290.5 910.8,293.1 911.1,292.7 911.8,293.6 912.7,293.8 913.6,289.1 913.9,289.0 914.4,288.6 915.1,284.9 915.9,284.7 916.6,283.5 916.7,284.2 917.5,286.3 918.3,287.1 918.6,287.0 919.0,285.7 919.5,288.5 920.1,291.0 920.5,291.7 920.6,293.4 921.1,289.5 921.6,287.2 922.1,285.9 922.4,286.1 922.5,286.7 922.9,284.1 923.3,282.8 923.6,281.9 924.0,278.9 924.3,278.6 924.5,279.7 925.7,277.6 925.7,275.8 926.1,281.1 926.4,280.3 926.8,280.7 927.1,283.3 927.1,282.1 927.4,282.9 927.7,284.6 928.0,286.3 928.2,287.3 928.5,290.8 928.5,290.0 928.9,292.5 929.3,293.0 929.5,294.6 929.7,294.0 930.1,291.4 930.5,291.1 930.9,289.9 931.0,289.3 931.9,286.9 932.3,288.0 933.0,288.2 933.7,289.0 933.9,289.3 934.5,290.0 935.0,292.0 935.1,292.7 935.4,294.5 935.8,293.8 936.1,295.6 936.5,298.8 936.5,298.3 937.2,299.7 937.8,302.0 938.0,301.2" fill="none" stroke="#ff0000" stroke-width="4" stroke-linejoin="round" stroke-linecap="round"/>
<polyline points="95.7,559.6 96.5,556.8 97.3,555.3 98.2,556.9 99.0,552.2 99.7,554.7 99.8,553.3 100.5,549.7 101.3,553.0 102.0,551.8 102.8,552.5 103.5,549.1 103.7,549.0 104.4,550.2 105.4,550.3 106.4,550.2 107.0,552.0 107.1,551.4 107.5,548.4 107.9,548.0 108.3,548.6 108.7,546.9 109.1,544.9 109.5,547.3 109.9,543.9 110.0,542.6 110.6,541.2 111.4,540.8 112.2,539.0 112.9,537.9 113.7,536.9 114.5,539.4 115.0,536.0 115.1,537.4 115.4,538.3 115.7,540.2 115.9,543.7 116.2,542.3 116.5,542.1 116.8,547.6 117.0,544.2 117.3,545.8 117.5,547.5 117.5,548.7 117.6,552.9 117.8,550.2 117.9,548.1 118.0,553.0 118.1,553.6 118.2,554.9 118.3,557.4 118.4,558.8 118.5,560.2 118.6,560.4 118.8,564.0 118.9,566.3 119.0,565.7 119.0,565.0 119.4,563.6 119.9,563.8 120.4,562.6 120.9,559.2 121.4,558.1 121.5,559.0 121.6,561.3 121.8,561.6 122.0,562.2 122.2,564.1 122.3,565.2 122.5,566.5 122.7,564.9 122.9,570.8 123.0,570.0 123.0,571.2 123.2,570.6 123.3,574.1 123.4,575.1 123.5,575.8 123.6,578.5 123.8,582.0 123.9,581.4 124.0,583.7 124.1,586.1 124.3,583.0 124.4,583.7 124.5,586.8 124.6,584.9 124.7,588.0 124.8,587.4 124.9,591.4 125.1,593.1 125.2,593.8 125.3,591.3 125.5,597.8 125.6,597.9 125.8,599.2 125.9,600.1 126.1,597.9 126.2,598.6 126.3,602.0 126.4,598.6 126.6,602.1 126.8,598.1 127.0,596.9 127.1,595.6 127.3,595.6 127.5,594.5 127.7,593.0 127.9,589.3 128.1,584.5 128.2,587.1 128.4,587.2 128.6,587.7 128.8,584.6 128.8,585.0 129.9,584.5 131.0,586.0 131.0,586.4 131.4,582.5 131.9,581.3 132.3,580.1 132.8,580.9 133.2,582.9 133.6,580.7 134.1,579.8 134.4,576.5 134.5,577.2 134.8,575.7 135.1,573.2 135.4,571.8 135.7,567.3 136.0,566.9 136.4,565.8 136.7,567.8 137.0,567.2 137.3,566.9 137.6,566.5 137.9,562.7 138.2,562.8 138.5,560.0 138.7,563.3 139.6,560.0 140.6,560.0 141.5,557.5 141.7,557.0 142.2,553.8 142.7,554.4 143.3,552.4 143.9,552.3 144.5,550.7 145.1,550.5 145.7,546.0 145.7,549.0 146.3,550.2 147.0,549.6 147.7,546.1 148.4,543.4 149.1,543.2 149.8,542.6 149.9,543.4 150.8,542.5 151.7,541.6 152.6,537.1 153.5,536.4 154.5,539.2 154.6,537.8 155.2,537.6 156.0,533.8 156.8,532.9 157.5,531.0 158.3,530.3 159.0,532.7 159.5,531.0 159.9,530.7 161.0,531.7 162.1,530.1 163.2,526.5 164.0,528.0 164.2,526.1 164.8,529.6 165.4,525.2 166.1,522.7 166.7,524.6 167.4,522.6 168.0,521.0 168.0,521.1 168.6,522.1 169.2,516.6 169.8,517.5 170.4,514.7 171.0,512.5 171.6,512.0 172.2,514.0 172.3,512.6 172.9,511.9 173.6,507.9 174.3,507.0 175.0,510.1 175.7,509.4 176.4,505.2 176.6,506.0 177.3,508.8 178.3,505.0 179.2,501.9 180.2,502.0 181.0,502.0 181.2,503.1 182.2,504.0 183.3,502.9 184.0,500.0 184.2,499.6 184.6,497.5 185.1,494.6 185.5,495.0 186.0,493.5 186.5,493.5 186.9,490.3 187.4,489.7 187.4,491.0 187.7,488.0 188.0,486.1 188.3,484.7 188.6,483.7 188.9,482.2 189.2,483.6 189.5,482.4 189.5,482.4 189.8,479.0 190.1,479.8 190.4,478.9 190.6,479.5 190.9,476.3 191.2,474.4 191.4,472.2 191.7,471.9 192.0,471.5 192.0,470.6 192.1,472.2 192.3,472.8 192.5,475.1 192.6,476.0 192.8,477.4 193.0,476.9 193.1,479.4 193.3,479.2 193.5,480.3 193.6,483.1 193.8,484.6 193.8,487.8 194.1,488.4 194.5,487.9 194.8,488.4 195.1,491.2 195.5,493.5 195.8,494.8 196.0,493.0 196.1,493.9 196.4,495.1 196.7,495.6 196.9,496.7 197.2,497.0 197.5,499.0 197.8,497.5 198.0,502.0 198.1,499.4 198.6,503.3 199.1,503.2 199.6,506.3 200.0,507.0 200.0,505.0 200.3,504.5 200.5,504.6 200.8,501.5 201.0,500.2 201.3,503.8 201.6,499.2 201.8,496.8 202.1,495.5 202.3,495.1 202.4,495.0 203.0,494.2 203.8,494.8 204.6,494.0 205.5,491.2 205.7,491.0 205.9,489.5 206.3,486.5 206.6,484.6 207.0,484.3 207.3,485.6 207.7,484.2 208.0,483.9 208.4,483.2 208.7,480.4 209.0,479.0 209.1,482.5 209.5,480.6 209.9,480.7 210.4,481.9 210.8,485.5 211.0,484.6 211.3,485.5 211.7,485.4 212.2,488.0 212.7,490.7 213.2,490.5 213.6,491.1 214.1,494.1 214.3,493.0 214.5,495.8 214.7,497.1 215.0,495.8 215.3,497.9 215.5,499.5 215.8,497.6 216.1,502.5 216.3,503.2 216.4,503.0 216.5,501.6 216.6,504.1 216.7,500.7 216.9,497.4 217.0,496.5 217.1,496.3 217.2,495.7 217.4,493.3 217.5,490.4 217.6,488.9 217.7,487.4 217.9,485.7 218.0,485.8 218.1,484.2 218.2,483.7 218.4,481.3 218.5,479.6 218.6,479.2 218.6,480.0 219.9,479.2 221.2,481.5 222.5,479.1 223.0,480.0 223.4,479.4 224.2,478.2 224.9,475.2 225.6,476.6 226.0,475.5 226.3,475.4 226.8,470.7 227.4,472.7 228.0,472.9 228.6,469.6 229.2,471.5 229.8,469.0 229.8,468.0 230.5,465.4 231.1,466.2 231.8,464.3 232.5,461.4 233.2,458.6 233.5,462.0 234.2,460.9 235.4,459.9 236.6,461.3 237.3,460.4 237.6,460.8 238.6,458.6 239.5,457.2 240.4,459.7 241.0,456.7 241.4,459.8 242.6,458.1 243.7,455.4 244.8,454.8 244.8,453.2 245.4,452.5 246.0,454.6 246.6,452.6 246.7,451.0 247.2,450.0 247.7,447.0 248.3,447.4 248.6,447.0 248.8,446.1 249.2,448.3 249.5,451.0 249.9,453.2 250.3,453.3 250.5,453.0 250.7,452.0 250.9,451.3 251.2,452.6 251.5,449.9 251.8,445.5 252.1,447.8 252.3,445.0 252.4,445.6 253.0,449.1 253.5,443.3 254.0,441.3 254.5,439.5 255.0,438.8 255.1,439.2 256.2,437.3 257.3,434.9 258.0,437.0 258.2,433.8 258.7,437.4 259.2,438.7 259.7,439.8 259.9,441.6 260.0,445.2 260.2,445.6 260.4,447.1 260.7,446.1 260.9,447.9 261.1,448.5 261.3,449.6 261.5,452.3 261.7,453.8 261.8,453.0 262.0,454.7 262.3,455.6 262.6,454.3 262.9,455.9 263.2,458.9 263.5,459.6 263.6,460.4 263.8,460.1 264.1,462.8 264.3,462.6 264.6,463.8 264.8,467.4 265.1,467.5 265.3,471.2 265.5,470.0 265.5,471.1 265.7,470.0 265.9,469.3 266.0,463.2 266.2,463.6 266.3,461.0 266.5,460.5 266.7,460.1 266.8,461.1 267.0,458.5 267.2,459.4 267.3,455.5 267.4,454.8 267.9,454.3 268.8,453.6 269.3,453.0 269.5,455.1 269.9,455.2 270.2,455.2 270.6,456.6 271.0,456.2 271.0,458.6 271.8,458.8 272.6,458.1 273.4,456.7 274.0,454.8 274.1,455.2 274.3,452.5 274.6,451.1 274.8,451.6 275.0,448.5 275.3,446.6 275.5,448.8 275.8,448.5 275.9,445.0 276.1,445.6 276.4,444.2 276.7,442.4 277.0,442.9 277.4,439.3 277.7,438.1 278.0,437.5 278.3,437.9 278.6,434.6 278.7,434.0 279.6,433.8 280.6,432.0 281.5,432.0 281.7,430.8 283.0,430.7 284.3,432.0 284.3,431.8 285.0,434.4 285.7,433.6 286.3,434.3 287.0,435.5 287.0,436.5 287.6,437.9 288.2,439.9 288.9,438.4 289.5,441.1 290.0,442.0 290.0,440.7 290.2,444.1 290.3,443.5 290.5,444.1 290.7,445.7 290.8,448.1 291.0,448.3 291.1,451.1 291.3,452.7 291.5,454.0 291.6,455.0 291.6,455.3 291.9,455.1 292.2,451.7 292.5,450.9 292.8,449.7 293.1,445.4 293.3,446.9 293.4,447.0 294.2,445.0 295.1,443.9 296.0,443.4 296.6,444.0 296.9,443.3 297.5,442.8 298.1,442.1 298.7,439.3 298.7,440.0 299.2,439.7 299.8,438.6 300.3,436.2 300.9,435.2 301.4,435.4 302.0,434.0 302.0,433.0 302.8,433.3 303.6,431.5 304.4,431.8 305.2,429.0 305.2,432.8 305.8,429.6 306.4,424.8 307.0,427.5 307.6,424.0 308.1,421.0 308.4,422.6 308.7,417.8 309.3,420.2 309.9,421.1 310.5,420.4 311.0,417.3 311.6,418.3 311.7,416.0 312.2,415.5 312.8,413.1 313.4,412.6 314.0,411.8 314.6,410.6 315.0,409.7 315.3,410.8 316.0,411.0 316.1,408.1 316.5,413.8 316.9,413.2 317.3,415.7 317.7,415.1 317.9,416.6 318.0,415.8 318.2,414.3 318.5,410.8 318.7,411.8 318.9,411.6 319.1,408.0 319.3,404.6 319.5,404.8 319.8,403.7 319.8,405.3 320.7,404.6 322.0,404.4 322.6,404.3 323.2,406.8 324.5,406.5 325.7,405.3 326.3,405.3 326.8,406.1 327.7,402.5 328.6,405.0 329.6,406.4 330.0,409.0 330.2,407.5 330.5,407.3 330.8,406.2 331.2,406.1 331.5,402.8 331.8,402.4 332.2,400.7 332.5,399.5 332.8,398.8 333.0,397.7 333.3,396.8 334.0,396.2 334.6,394.9 335.2,395.2 335.8,392.9 336.5,392.0 336.7,391.0 337.3,395.7 338.1,394.7 339.0,394.9 339.5,394.0 339.7,396.6 340.2,394.9 340.8,397.8 341.3,399.5 341.8,400.4 342.3,402.3 342.3,400.6 342.8,403.5 343.3,405.3 343.7,403.9 344.2,405.3 344.2,405.9 344.6,406.0 345.0,409.5 345.4,409.8 345.8,408.6 346.0,411.0 346.1,411.2 346.4,411.2 346.7,415.1 347.0,415.2 347.3,413.3 347.6,416.3 347.9,420.2 348.0,419.4 348.3,419.2 348.7,416.4 349.0,416.6 349.4,415.7 349.7,415.9 349.9,412.8 350.6,414.9 351.8,412.8 351.8,413.9 352.0,410.6 352.2,410.3 352.3,409.3 352.5,407.7 352.7,406.9 352.9,403.4 353.0,404.1 353.2,402.5 353.4,401.7 353.6,399.8 353.6,399.6 354.1,398.2 354.7,397.7 355.3,397.6 355.5,395.9 355.8,395.0 356.2,394.3 356.6,391.7 357.0,391.7 357.4,390.2 357.4,390.3 357.7,387.1 358.0,388.8 358.4,385.4 358.7,385.0 359.0,381.9 359.3,382.7 359.3,379.4 359.6,381.4 359.9,378.0 360.2,375.1 360.5,376.1 360.7,373.5 361.0,373.9 361.2,374.2 361.3,377.0 361.7,376.0 362.0,377.7 362.3,379.4 362.7,380.3 363.0,380.8 363.1,380.7 363.7,381.8 364.3,378.9 364.9,377.9 365.0,377.0 365.2,376.4 365.5,372.9 365.8,373.4 366.0,372.2 366.3,371.9 366.6,371.0 366.8,368.6 366.9,371.5 367.4,368.0 367.9,369.8 368.4,371.3 368.7,373.3 368.8,372.0 369.2,375.0 369.6,376.0 370.0,377.5 370.5,376.2 370.6,379.0 370.8,377.7 371.0,380.4 371.3,381.5 371.6,382.5 371.8,384.4 372.1,385.6 372.3,385.7 372.5,388.3 372.6,389.8 372.8,386.1 373.1,386.1 373.3,385.2 373.6,384.5 373.8,381.1 374.1,378.6 374.3,379.0 374.3,379.3 374.9,380.7 375.5,378.0 376.1,377.7 376.2,382.7 376.5,381.5 376.8,383.8 377.1,385.6 377.4,388.0 377.7,387.5 378.0,393.6 378.0,390.2 378.1,391.4 378.3,390.3 378.4,387.6 378.6,382.4 378.7,383.4 378.8,381.6 379.0,381.6 379.1,379.9 379.3,379.6 379.4,376.3 379.6,375.2 379.7,374.5 379.8,372.3 380.0,371.2 380.0,372.0 381.0,372.1 382.2,374.0 382.8,370.7 382.9,371.9 383.1,374.0 383.3,372.6 383.6,374.1 383.8,376.6 384.0,378.6 384.2,377.8 384.4,380.8 384.6,381.9 384.7,382.0 385.0,384.9 385.4,386.1 385.8,386.7 386.2,386.3 386.6,387.6 386.6,388.1 387.1,387.8 387.5,388.6 387.9,388.2 388.3,389.8 388.5,393.3 388.6,391.2 388.9,394.2 389.1,396.3 389.4,395.7 389.6,398.3 389.8,400.7 390.1,403.1 390.3,402.7 390.3,403.2 390.4,404.6 390.5,405.0 390.6,408.0 390.7,406.1 390.7,409.1 390.8,407.2 390.9,413.4 391.0,415.1 391.1,412.0 391.2,414.3 391.3,414.6 391.3,417.7 391.4,415.1 391.6,418.1 391.8,419.2 392.0,423.3 392.1,423.1 392.3,423.1 392.5,425.5 392.7,427.8 392.9,430.0 393.1,431.1 393.2,431.0 393.2,428.8 393.4,427.6 393.5,427.3 393.7,425.3 393.9,426.2 394.0,423.9 394.2,422.7 394.3,421.0 394.5,420.2 394.6,416.8 394.8,420.2 394.9,416.4 395.0,415.9 395.1,414.1 395.4,411.0 395.7,411.6 396.0,409.0 396.2,409.9 396.5,410.5 396.8,409.0 397.0,406.5 397.0,406.4 397.3,409.7 397.7,409.4 398.0,410.5 398.3,411.8 398.6,412.3 398.8,414.0 398.8,414.7 399.1,413.8 399.3,413.7 399.5,418.9 399.7,418.5 399.9,419.9 400.1,422.2 400.4,422.6 400.6,422.6 400.7,425.3 400.9,423.9 401.3,421.9 401.7,422.6 402.1,420.5 402.5,419.3 402.6,419.6 402.7,421.5 402.8,419.9 402.9,420.4 403.0,424.7 403.1,427.7 403.2,427.8 403.3,427.5 403.4,431.2 403.5,432.2 403.5,431.0 403.6,434.1 403.7,431.4 403.8,434.0 404.0,434.4 404.1,435.3 404.2,438.9 404.3,441.1 404.4,440.9 404.5,442.2 404.6,441.3 404.7,442.3 404.9,440.7 405.1,438.2 405.3,437.4 405.4,435.7 405.6,432.3 405.8,431.4 406.0,431.5 406.1,431.1 406.3,429.0 406.3,427.4 406.9,426.1 407.5,425.2 408.1,422.8 408.2,425.3 408.3,427.2 408.5,428.6 408.6,431.2 408.8,427.7 408.9,429.6 409.1,435.0 409.2,432.7 409.3,432.3 409.5,436.1 409.6,440.2 409.8,440.9 409.9,439.7 410.1,442.4 410.1,442.2 410.3,444.0 410.5,445.1 410.7,446.5 410.9,448.5 411.1,450.5 411.4,452.3 411.6,453.3 411.8,452.7 412.0,450.9 412.0,453.5 412.1,452.2 412.2,448.7 412.3,452.3 412.3,447.4 412.4,444.0 412.5,442.1 412.6,443.9 412.7,443.4 412.8,442.9 412.9,441.3 413.0,438.3 413.0,438.8 413.1,435.9 413.2,432.9 413.3,434.6 413.4,433.7 413.5,430.3 413.6,429.4 413.7,430.2 413.7,429.3 413.8,425.2 413.9,425.3 414.0,426.3 414.3,420.3 414.6,421.5 414.9,421.5 415.2,419.8 415.6,418.8 415.8,417.7 415.8,415.1 416.1,415.2 416.3,415.3 416.5,412.3 416.7,412.1 416.9,410.7 417.1,406.3 417.3,406.5 417.5,407.4 417.6,406.5 417.9,403.7 418.5,404.1 419.0,403.9 419.5,402.7 419.6,401.2 419.8,403.3 420.1,406.6 420.3,408.2 420.6,407.0 420.9,410.5 421.1,411.5 421.4,412.3 421.4,412.0 421.6,415.5 421.8,416.2 421.9,416.8 422.1,418.8 422.3,419.8 422.5,421.9 422.7,421.4 422.9,419.7 423.0,425.0 423.2,426.4 423.3,425.3 423.5,427.3 423.8,427.7 424.1,428.6 424.4,430.0 424.8,429.7 425.1,433.1 425.2,432.8 425.5,433.9 425.9,433.5 426.2,436.0 426.6,436.8 427.0,438.4 427.0,438.3 427.3,440.6 427.5,445.3 427.7,442.1 427.9,444.2 428.2,446.1 428.4,447.2 428.6,450.0 428.8,448.9 429.0,449.7 429.2,449.6 429.7,451.0 430.3,450.3 430.8,453.5 430.8,454.4 431.1,450.6 431.3,451.2 431.6,451.5 431.8,447.7 432.1,446.6 432.3,445.3 432.6,446.9 432.7,444.0 432.8,445.9 432.8,443.8 432.9,448.3 433.0,450.5 433.1,447.5 433.2,446.5 433.3,455.0 433.4,454.7 433.5,452.2 433.6,457.1 433.7,460.0 433.8,456.2 433.9,461.4 434.0,463.0 434.1,463.3 434.2,463.3 434.2,465.8 434.3,465.7 434.4,468.0 434.5,469.0 434.6,470.4 434.7,469.9 434.9,472.5 435.2,474.9 435.4,476.3 435.7,477.0 435.9,479.9 436.2,477.3 436.5,479.4 436.5,479.8 436.7,478.9 436.8,479.3 437.0,473.3 437.2,473.3 437.4,472.6 437.5,472.3 437.7,474.3 437.9,471.0 438.1,468.7 438.2,467.8 438.3,466.7 438.4,469.3 438.6,469.1 438.7,472.7 438.9,470.4 439.1,474.3 439.2,475.5 439.4,477.3 439.6,479.5 439.7,478.4 439.9,480.0 440.0,481.1 440.2,481.7 440.2,480.9 440.4,479.0 440.5,477.5 440.6,478.5 440.8,473.3 440.9,472.3 441.1,473.1 441.2,474.3 441.4,471.7 441.5,472.0 441.7,469.2 441.8,466.8 442.0,463.6 442.1,464.4 442.1,464.8 442.7,466.1 443.2,463.4 443.8,460.0 444.0,461.0 444.3,462.4 444.7,461.2 445.1,462.1 445.5,466.5 445.9,466.7 445.9,467.7 446.0,469.8 446.1,470.3 446.2,470.8 446.3,472.3 446.4,472.9 446.5,476.0 446.6,474.4 446.6,473.9 446.7,476.2 446.8,480.4 446.9,480.5 447.0,478.8 447.1,486.8 447.2,484.5 447.3,485.8 447.4,488.3 447.5,489.6 447.6,490.1 447.7,489.1 447.8,492.8 447.9,492.6 447.9,494.7 448.1,494.6 448.5,497.5 448.9,497.5 449.4,496.2 449.8,498.5 449.8,500.3 449.9,499.5 450.1,499.0 450.3,494.9 450.4,494.8 450.6,494.2 450.7,494.3 450.9,492.4 451.0,490.6 451.2,488.5 451.3,488.1 451.5,487.5 451.6,485.3 451.8,485.8 452.4,486.5 453.0,490.5 453.5,489.0 453.5,489.5 453.9,486.6 454.2,487.0 454.5,483.4 454.8,481.7 455.1,483.3 455.4,481.5 455.5,481.9 456.1,484.1 456.7,485.5 457.2,484.5 457.3,485.3 457.5,484.7 457.8,482.5 458.0,481.8 458.3,480.8 458.6,479.1 458.8,475.9 459.1,476.4 459.2,475.9 459.4,476.6 459.7,478.6 460.0,477.8 460.3,480.3 460.6,481.3 460.9,482.1 461.0,483.4 461.1,482.0 461.4,480.8 461.6,477.9 461.8,477.3 462.0,476.4 462.3,476.6 462.5,474.8 462.7,475.7 462.9,473.9 463.0,472.0 463.6,473.6 464.5,474.2 464.8,474.0 464.9,471.3 465.1,471.9 465.2,472.5 465.4,468.4 465.6,469.7 465.7,468.2 465.9,466.3 466.0,463.8 466.2,462.8 466.4,460.4 466.5,459.9 466.7,459.0 466.7,459.0 466.9,457.8 467.1,454.7 467.3,456.0 467.6,453.2 467.8,453.0 468.0,452.3 468.2,450.0 468.4,452.4 468.6,447.6 468.7,449.0 469.4,449.8 470.1,449.8 470.5,450.5 470.6,450.4 470.8,446.9 471.0,447.8 471.3,445.7 471.5,443.9 471.7,444.4 471.9,443.9 472.1,440.8 472.3,440.0 472.4,438.7 472.8,438.1 473.2,440.3 473.6,444.0 474.0,446.2 474.2,445.8 474.3,444.9 474.6,447.4 474.9,450.5 475.1,449.6 475.4,450.6 475.6,451.2 475.9,454.3 476.1,455.2 476.1,452.7 476.4,455.7 476.6,458.4 476.8,459.3 477.0,462.0 477.2,463.2 477.4,462.8 477.6,462.8 477.9,463.6 478.0,466.5 478.1,467.1 478.3,468.1 478.5,469.6 478.7,469.5 478.9,473.4 479.2,475.0 479.4,476.2 479.6,474.8 479.8,480.7 479.9,477.7 480.1,479.2 480.4,474.8 480.7,475.6 481.1,473.3 481.4,470.8 481.7,469.2 481.8,470.2 482.1,469.7 482.5,468.7 482.9,467.4 483.3,465.5 483.6,464.6 483.6,463.2 483.7,466.0 483.8,466.9 483.8,468.2 483.9,470.7 484.0,474.0 484.1,472.5 484.1,475.2 484.2,474.5 484.3,477.5 484.4,479.0 484.5,479.5 484.5,480.8 484.6,481.5 484.7,480.6 485.2,482.0 485.8,485.1 486.4,486.6 486.5,485.3 486.8,490.1 487.1,487.3 487.4,488.1 487.7,490.1 488.0,491.5 488.3,492.0 488.3,492.8 488.6,493.1 488.9,494.8 489.2,498.2 489.5,498.1 489.9,498.0 490.2,500.4 490.2,500.3 490.8,497.6 491.4,500.2 492.0,502.1 492.1,504.0 492.4,503.0 492.8,498.5 493.3,499.3 493.7,497.4 494.0,498.4 494.0,499.5 494.3,501.4 494.5,501.0 494.7,503.1 494.9,502.3 495.1,504.9 495.3,506.7 495.6,509.3 495.8,508.8 495.9,509.7 496.0,506.0 496.3,508.1 496.5,505.1 496.8,504.1 497.0,503.2 497.3,505.0 497.5,502.1 497.8,500.3 497.8,502.1 498.1,499.7 498.4,495.9 498.7,496.6 499.0,496.0 499.3,493.4 499.6,492.8 499.7,490.3 500.6,495.2 501.5,491.0 501.5,495.2 501.8,494.2 502.2,494.8 502.5,496.6 502.8,497.5 503.1,495.6 503.4,498.4 503.4,496.1 503.6,500.4 503.8,503.3 504.0,504.7 504.2,505.7 504.4,505.6 504.5,507.9 504.7,510.4 504.9,510.5 505.1,512.5 505.3,514.0 505.3,511.6 505.5,510.1 505.8,510.8 506.1,507.2 506.3,505.1 506.6,507.2 506.8,502.2 507.1,501.9 507.2,502.2 507.3,502.6 507.4,501.1 507.6,498.6 507.7,496.1 507.8,496.6 508.0,495.9 508.1,493.9 508.2,491.0 508.4,488.6 508.5,489.1 508.7,488.2 508.8,488.4 508.9,485.8 509.0,485.3 509.5,487.0 510.4,485.3 511.0,487.2 511.1,483.8 511.5,486.0 511.9,483.8 512.2,481.6 512.5,482.0 512.7,481.3 513.9,479.4 514.7,481.0 514.8,480.3 515.3,480.3 515.7,483.4 516.1,484.1 516.5,486.0 516.6,486.6 516.9,487.5 517.4,489.4 517.8,487.7 518.2,490.8 518.5,492.2 518.6,491.4 518.9,488.8 519.2,488.4 519.5,488.6 519.8,487.7 520.1,488.7 520.3,484.7 520.4,485.6 520.6,486.7 520.8,490.6 521.0,489.0 521.2,489.0 521.4,490.5 521.7,491.6 521.9,493.7 522.1,495.5 522.2,496.0 522.3,495.6 522.6,495.9 522.8,498.5 523.1,498.5 523.4,500.0 523.6,503.0 523.9,504.1 524.1,505.4 524.1,504.1 524.5,504.3 524.8,505.9 525.1,506.5 525.4,510.5 525.7,512.9 526.0,513.0 526.0,513.6 526.5,512.3 526.9,509.9 527.3,509.3 527.7,508.1 527.9,507.3 528.2,508.0 528.8,508.3 529.4,508.4 529.8,511.0 529.8,510.5 530.0,509.9 530.2,506.6 530.4,506.0 530.6,505.2 530.7,504.8 530.9,500.6 531.1,498.9 531.3,497.5 531.4,496.4 531.6,497.9 531.7,495.4 532.5,497.3 533.2,494.2 534.0,497.3 534.5,494.0 534.6,494.7 534.8,493.6 535.1,491.3 535.3,491.1 535.6,489.4 535.8,488.6 536.1,487.2 536.3,484.7 536.3,485.9 536.7,484.3 537.2,484.0 537.6,481.5 538.0,479.1 538.2,479.0 538.3,480.5 538.5,477.1 538.7,476.4 538.9,477.8 539.2,473.3 539.4,471.6 539.6,469.6 539.8,467.8 540.0,468.6 540.1,467.7 540.5,466.8 541.1,465.9 541.7,462.2 542.0,464.0 542.1,464.5 542.5,464.8 542.8,464.0 543.1,466.4 543.4,466.7 543.7,472.3 543.9,471.5 544.2,468.9 544.8,469.6 545.3,467.0 545.8,467.7 545.9,466.3 546.2,466.9 546.5,471.6 546.8,470.5 547.1,471.7 547.4,474.3 547.6,475.3 547.7,475.0 548.1,477.6 548.5,477.2 548.9,476.7 549.3,480.4 549.5,481.0 549.8,482.0 550.4,480.4 551.0,477.2 551.4,477.2 551.5,478.2 551.9,477.1 552.4,474.3 552.8,473.7 553.2,472.0 553.3,471.5 553.5,472.6 553.7,474.7 553.9,476.5 554.1,476.9 554.3,477.8 554.5,475.3 554.7,477.9 555.0,481.4 555.2,481.5 555.2,482.8 555.4,481.9 555.5,480.1 555.7,479.1 555.9,477.9 556.1,478.4 556.2,476.5 556.4,474.4 556.6,471.1 556.8,471.4 556.9,468.5 557.0,469.6 557.4,470.2 558.0,467.1 558.6,465.5 559.0,465.9 559.4,465.0 560.3,463.0 560.8,464.0 560.9,463.7 561.2,462.8 561.6,460.2 561.9,458.7 562.2,460.8 562.5,459.6 562.7,456.5 563.0,457.5 563.5,455.7 564.1,456.1 564.6,452.7 564.7,453.1 565.1,453.8 565.5,455.1 565.9,455.0 566.3,456.1 566.5,458.3 566.9,459.7 567.4,457.3 568.0,454.2 568.3,454.6 568.7,453.5 569.6,452.4 570.2,452.7 570.3,452.3 570.6,454.1 570.8,453.5 571.1,453.8 571.3,457.0 571.6,458.9 571.9,458.9 572.1,462.0 572.1,461.2 572.5,459.6 572.8,459.4 573.1,457.8 573.4,458.4 573.7,458.1 574.0,454.6 574.1,456.1 574.7,453.8 575.3,453.5 575.9,451.0 576.0,452.4 576.7,451.0 577.5,450.3 577.8,448.4 578.1,447.6 578.7,447.6 579.3,446.5 579.6,444.7 579.7,445.1 580.0,442.9 580.2,441.0 580.5,441.0 580.7,438.6 581.0,436.1 581.3,438.4 581.5,435.3 581.5,437.5 582.1,433.7 582.7,434.8 583.3,429.4 583.4,431.5 583.5,430.7 583.7,430.2 583.8,428.6 584.0,426.6 584.1,426.4 584.3,425.1 584.3,424.0 585.2,421.8 586.1,420.7 586.2,422.0 586.7,422.0 587.3,421.3 587.9,417.5 588.1,418.3 588.5,415.1 589.1,416.3 589.7,414.0 590.0,414.6 590.1,412.6 590.4,411.6 590.6,411.5 590.9,407.3 591.1,409.2 591.4,407.2 591.7,407.6 591.9,405.2 592.0,403.9 592.9,402.6 593.8,403.3 593.8,403.6 594.0,406.1 594.3,406.3 594.5,406.8 594.8,410.3 595.0,411.9 595.3,412.1 595.5,412.3 595.6,412.7 595.9,413.7 596.3,412.2 596.7,409.4 597.1,410.3 597.5,407.0 597.5,409.2 598.2,406.9 598.9,405.7 599.5,405.1 600.2,402.3 600.3,402.3 600.9,401.5 601.6,405.5 602.2,405.2 602.2,403.1 602.5,401.0 602.8,399.7 603.0,401.1 603.3,401.4 603.5,398.2 603.8,399.1 604.0,399.0 604.1,395.8 604.3,397.7 604.7,392.6 605.0,393.9 605.3,394.8 605.6,389.7 605.9,386.2 606.0,388.2 606.2,390.3 606.6,391.6 606.9,392.0 607.2,393.0 607.5,391.8 607.8,393.6 607.9,395.8 608.2,394.6 608.6,394.3 609.0,394.0 609.4,393.0 609.8,390.1 609.9,390.1 610.8,391.1 611.6,392.0 611.6,394.2 612.0,392.1 612.3,395.0 612.6,394.8 612.9,397.2 613.2,401.1 613.5,399.5 613.6,401.1 614.2,400.7 614.7,401.0 615.3,400.9 615.4,403.3 615.8,403.7 616.2,402.2 616.6,405.7 617.0,408.0 617.3,409.0 617.4,408.0 617.8,409.1 618.2,413.1 618.7,415.2 619.1,417.9 619.2,414.6 619.4,416.5 619.7,413.8 620.0,411.3 620.3,411.8 620.6,410.2 620.9,408.2 621.0,407.0 621.2,409.0 621.4,405.5 621.6,404.0 621.8,404.0 622.1,402.3 622.3,400.2 622.5,400.1 622.8,401.7 623.0,396.8 623.0,395.8 623.8,396.2 624.7,395.0 624.8,393.9 625.4,395.6 625.9,398.8 626.5,398.0 626.7,397.6 627.7,400.3 628.6,397.6 628.7,397.4 629.0,399.3 629.3,399.4 629.6,402.0 629.9,404.1 630.3,405.4 630.5,405.2 630.6,406.2 630.9,406.7 631.2,406.3 631.5,410.1 631.8,410.9 632.1,413.6 632.3,412.7 632.4,411.3 632.8,413.5 633.3,412.9 633.7,417.6 634.1,417.3 634.2,418.3 634.7,415.7 635.2,417.1 635.8,415.3 636.1,414.6 636.2,414.3 636.5,412.6 636.7,413.0 636.9,411.0 637.1,409.5 637.4,407.7 637.6,407.7 637.8,407.0 638.0,404.0 638.3,403.9 639.3,404.3 639.9,402.5 640.1,401.3 640.7,402.6 641.2,404.2 641.7,405.2 641.8,406.7 641.9,408.2 642.1,407.3 642.2,407.7 642.4,411.2 642.6,411.6 642.7,414.2 642.7,414.0 642.9,415.6 643.1,415.9 643.4,417.3 643.6,420.4 643.8,421.0 644.0,422.2 644.2,424.3 644.4,423.8 644.6,425.5 644.7,423.3 644.9,422.8 645.1,424.7 645.3,422.9 645.5,423.8 645.7,421.4 645.9,419.6 646.2,416.2 646.4,412.6 646.5,414.2 646.6,409.9 646.9,411.5 647.1,409.3 647.4,407.6 647.6,408.7 647.9,407.8 648.2,404.3 648.4,404.8 648.4,404.6 648.7,405.5 649.0,404.2 649.3,400.6 649.6,401.0 649.9,396.0 650.2,397.3 650.2,396.0 650.6,394.9 650.9,396.2 651.2,392.1 651.5,390.4 651.8,389.9 652.1,389.7 652.1,390.4 652.6,386.6 653.1,387.0 653.6,385.4 654.0,383.9 654.5,381.5 655.0,382.3 655.0,382.2 656.1,382.8 657.4,383.7 657.8,383.1 658.4,384.2 659.3,384.7 660.2,384.3 660.6,386.0 660.7,384.9 661.0,385.1 661.3,383.3 661.5,382.4 661.8,381.8 662.0,379.9 662.3,377.6 662.5,376.6 662.6,375.0 662.9,376.6 663.2,374.1 663.5,372.4 663.8,371.4 664.0,371.3 664.3,369.0 664.4,370.5 664.9,367.1 665.4,366.2 665.8,366.8 666.2,364.3 666.4,363.7 667.2,363.0 668.0,360.8 668.8,358.5 669.0,360.6 669.7,358.6 670.6,361.6 671.0,362.5 671.1,363.6 671.3,360.9 671.4,364.4 671.6,366.4 671.8,366.0 671.9,368.9 672.1,369.6 672.2,373.9 672.4,372.6 672.6,376.1 672.7,374.8 672.8,376.6 672.9,373.9 673.2,376.0 673.4,372.6 673.6,371.2 673.8,368.2 674.0,368.9 674.2,370.0 674.4,367.0 674.7,365.2 674.7,365.3 675.5,364.5 676.4,362.5 676.6,363.4 676.8,360.3 677.0,360.6 677.2,359.3 677.4,355.9 677.6,353.0 677.8,355.4 678.1,352.7 678.3,353.5 678.5,353.5 678.5,352.1 678.9,351.3 679.3,349.0 679.7,344.6 680.1,348.3 680.3,346.5 680.7,347.8 681.6,344.6 682.2,344.6 682.3,343.3 682.5,346.5 682.8,344.8 683.1,349.1 683.3,351.6 683.6,350.1 683.8,350.8 684.1,356.0 684.1,354.0 684.3,352.7 684.4,351.7 684.6,349.7 684.7,345.8 684.9,348.1 685.1,348.8 685.2,344.9 685.4,342.4 685.6,344.3 685.7,339.5 685.9,338.9 686.0,338.9 686.2,336.4 687.2,334.8 687.9,337.0 688.0,335.5 688.4,334.1 688.8,336.6 689.2,340.1 689.6,340.9 689.8,342.7 690.0,340.0 690.3,343.7 690.6,341.5 690.9,338.1 691.2,338.5 691.5,337.1 691.6,335.2 692.2,335.3 693.1,335.0 693.5,333.3 693.7,332.4 694.1,330.5 694.6,332.5 695.0,329.7 695.4,330.1 695.4,327.6 696.0,326.6 696.5,327.9 697.1,329.1 697.3,331.4 697.9,330.4 698.9,329.7 699.2,329.5 699.4,331.6 699.8,332.7 700.2,333.1 700.6,334.9 701.0,335.2 701.0,336.5 701.3,334.7 701.5,329.3 701.8,329.7 702.1,330.5 702.4,328.4 702.6,329.4 702.9,326.1 703.0,325.8 703.6,326.4 704.5,326.1 704.8,327.6 705.2,327.9 705.8,331.0 706.4,333.2 706.7,331.4 707.1,333.0 707.9,331.7 708.0,330.0 708.6,331.7 709.2,330.6 709.5,332.8 709.8,332.6 710.4,330.3 710.9,330.1 711.4,329.0 711.4,329.2 711.5,331.8 711.6,331.3 711.7,334.2 711.8,334.8 711.9,338.2 712.0,337.6 712.1,338.3 712.2,336.9 712.3,340.3 712.4,341.4 712.5,342.4 712.7,340.4 712.9,344.6 713.0,346.8 713.2,347.1 713.4,350.5 713.5,350.4 713.7,351.2 713.8,353.1 714.0,352.4 714.2,355.5 714.2,355.4 714.4,353.2 714.6,353.1 714.8,353.4 715.0,350.5 715.2,348.3 715.4,350.1 715.7,347.4 715.9,347.2 716.1,345.5 716.1,344.0 717.0,344.3 717.9,344.7 718.0,342.2 718.3,341.8 718.6,337.8 718.9,337.6 719.2,336.2 719.6,334.1 719.9,333.6 719.9,334.7 720.5,333.9 721.1,333.3 721.6,331.7 721.8,331.0 722.0,330.0 722.2,328.9 722.5,326.9 722.7,324.8 722.9,324.7 723.2,324.9 723.4,321.7 723.6,321.5 723.8,321.0 724.4,321.0 724.9,317.7 725.5,317.7 725.5,317.9 726.5,317.1 727.4,315.9 727.4,317.5 728.3,314.2 729.3,313.2 729.3,314.0 729.7,317.2 730.1,320.0 730.5,319.6 731.0,321.5 731.2,319.6 731.3,319.0 731.5,319.3 731.8,317.5 732.0,316.6 732.3,312.6 732.5,312.6 732.8,312.4 733.0,310.2 733.0,312.1 733.3,310.2 733.7,308.7 734.0,308.2 734.3,308.2 734.6,302.8 734.9,302.7 734.9,299.6 735.1,300.5 735.2,302.2 735.4,302.1 735.6,299.6 735.7,295.5 735.9,295.6 736.1,292.9 736.2,293.4 736.4,291.1 736.5,292.3 736.7,287.9 736.8,287.6 737.2,290.0 738.1,288.5 738.7,289.5 738.8,290.9 739.2,292.0 739.7,290.8 740.1,290.4 740.5,293.7 740.6,295.2 740.8,293.6 741.1,292.0 741.5,292.6 741.8,291.3 742.1,290.4 742.4,286.9 742.5,287.6 742.7,286.3 742.9,285.2 743.2,285.6 743.4,285.3 743.6,281.7 743.9,280.4 744.1,275.6 744.3,278.2 744.4,279.8 744.7,277.7 745.0,276.5 745.4,274.9 745.7,272.9 746.0,269.0 746.2,270.7 746.3,269.1 746.6,270.7 747.0,272.9 747.3,273.1 747.6,276.0 747.9,278.4 748.1,278.2 748.2,279.3 748.4,280.5 748.6,284.9 748.8,282.6 749.1,283.0 749.3,286.1 749.5,286.2 749.7,290.2 749.9,288.8 750.0,289.5 750.2,290.2 750.7,294.0 751.1,291.2 751.5,295.1 751.9,296.0 751.9,295.2 752.0,297.1 752.0,300.1 752.1,299.0 752.2,301.3 752.2,301.3 752.3,304.8 752.4,303.1 752.5,305.2 752.5,306.0 752.6,306.4 752.7,310.4 752.7,310.5 752.8,312.9 752.8,312.1 753.0,307.8 753.3,307.2 753.6,306.2 753.8,307.0 754.1,303.5 754.3,304.4 754.6,304.7 754.7,302.7 754.7,304.0 754.8,305.2 754.9,305.7 755.0,306.0 755.1,308.2 755.2,310.2 755.2,313.5 755.3,313.5 755.4,313.1 755.5,316.2 755.6,315.3 755.6,314.4 755.7,317.7 755.8,318.9 755.9,322.1 756.0,323.0 756.1,322.4 756.1,323.9 756.2,325.6 756.3,330.8 756.4,328.4 756.5,328.9 756.5,333.3 756.6,332.8 756.7,335.8 757.0,334.8 757.3,337.9 757.5,336.6 757.5,336.6 757.6,333.7 757.7,333.0 757.8,333.4 757.9,333.5 758.0,330.1 758.1,326.6 758.2,326.9 758.3,325.0 758.4,323.3 758.5,323.4 758.6,322.3 758.7,318.9 758.8,317.8 758.9,319.6 759.0,316.9 759.1,318.1 759.2,311.4 759.3,310.4 759.4,312.1 759.5,310.8 759.6,308.6 759.8,308.7 759.9,307.7 760.0,304.4 760.2,307.1 760.3,307.0 760.5,301.0 760.6,300.3 760.8,297.7 760.9,297.3 761.1,296.3 761.2,295.3 761.3,295.2 761.5,296.2 761.9,295.7 762.3,292.5 762.7,291.7 763.1,291.0 763.2,289.5 763.5,288.5 763.9,291.2 764.3,291.3 764.7,295.4 765.0,295.2 765.2,297.6 766.1,297.4 767.0,297.0 767.0,299.6 767.3,298.8 767.5,298.7 767.7,302.7 768.0,302.8 768.2,304.2 768.5,303.1 768.7,306.6 768.8,306.5 768.9,307.4 768.9,308.5 769.0,308.3 769.1,309.6 769.2,311.4 769.3,313.7 769.4,317.0 769.5,314.4 769.5,315.1 769.6,316.8 769.7,318.6 769.8,321.6 769.8,319.8 769.9,318.0 770.1,317.3 770.2,317.8 770.3,315.8 770.4,313.6 770.5,314.2 770.7,312.9 770.8,309.9 770.9,311.3 771.0,308.1 771.2,305.7 771.3,306.1 771.4,303.5 771.5,301.6 771.6,302.8 771.7,303.6 771.9,300.6 772.1,298.1 772.4,298.1 772.6,296.8 772.8,292.8 773.0,292.9 773.2,293.4 773.4,291.3 773.5,291.5 773.9,291.2 774.5,288.0 775.1,289.1 775.4,287.7 775.6,286.9 776.2,284.9 776.8,282.7 777.3,284.0 777.4,285.0 777.8,285.6 778.2,286.2 778.6,288.3 779.1,289.1 779.2,289.6 779.4,288.2 779.7,287.8 780.0,285.6 780.3,286.1 780.6,287.5 780.9,281.1 781.0,282.1 781.3,280.8 781.8,279.2 782.2,279.5 782.6,274.8 783.0,276.5 783.1,278.7 784.0,277.3 784.8,274.6 784.9,278.4 785.5,278.7 786.1,276.4 786.7,277.8 786.7,278.3 787.6,279.7 788.5,278.9 788.6,276.5 788.9,277.2 789.2,279.2 789.5,282.3 789.9,284.0 790.2,282.9 790.5,284.6 790.5,284.0 790.7,283.8 791.0,281.5 791.2,279.9 791.5,280.3 791.7,278.1 792.0,276.4 792.2,276.9 792.3,274.6 792.4,276.1 792.6,274.1 792.8,271.1 793.0,268.7 793.2,266.7 793.3,265.9 793.5,266.1 793.7,262.9 793.9,261.7 794.1,260.2 794.2,261.4 794.4,260.7 795.0,259.1 795.6,260.7 796.1,257.6 796.1,260.3 796.3,259.9 796.5,260.4 796.7,263.2 796.9,262.1 797.0,265.4 797.2,264.0 797.4,265.8 797.6,268.2 797.8,269.6 798.0,268.3 798.0,270.8 798.3,267.9 798.8,268.2 799.2,264.9 799.6,268.0 799.9,265.2 800.1,264.4 800.6,263.8 801.2,266.7 801.8,261.4 801.8,262.3 802.0,260.8 802.3,259.9 802.5,257.7 802.8,254.8 803.0,252.3 803.3,253.3 803.5,252.0 803.6,252.0 803.8,253.0 804.1,250.8 804.4,249.9 804.8,246.3 805.1,245.4 805.4,245.3 805.5,244.5 805.9,243.3 806.5,243.4 807.1,241.0 807.4,240.7 807.5,239.7 807.9,239.3 808.2,236.1 808.5,239.8 808.8,234.3 809.1,235.8 809.3,233.2 809.3,236.7 809.5,235.6 809.6,237.2 809.7,239.4 809.8,240.1 809.9,241.6 810.0,241.5 810.1,243.7 810.2,243.6 810.2,244.5 810.5,243.6 810.9,245.8 811.4,248.8 811.8,249.8 812.1,250.1 812.2,251.2 812.6,251.3 813.0,253.0 813.4,253.0 813.8,254.8 814.0,255.8 814.3,256.5 814.9,256.5 815.5,260.7 815.9,259.5 816.0,256.7 816.2,258.0 816.4,256.1 816.6,256.6 816.8,253.6 817.1,253.8 817.3,250.5 817.5,248.7 817.7,248.0 817.8,248.2 817.9,248.8 818.0,248.8 818.2,252.8 818.3,251.6 818.4,253.4 818.6,255.4 818.7,256.5 818.8,259.5 819.0,258.4 819.1,261.7 819.2,263.9 819.4,263.8 819.5,267.6 819.6,265.2 819.7,263.3 819.9,262.1 820.1,259.6 820.3,255.5 820.6,254.5 820.8,257.2 821.0,255.0 821.2,251.5 821.4,253.3 821.5,253.9 821.6,250.9 821.8,250.5 822.0,249.4 822.2,251.0 822.4,244.9 822.5,246.0 822.7,250.2 822.9,245.5 823.1,243.7 823.3,241.7 823.4,240.7 823.5,242.4 823.6,243.4 823.8,244.9 823.9,243.7 824.1,245.9 824.3,248.2 824.4,249.1 824.6,251.0 824.8,253.3 824.9,255.2 825.1,255.1 825.2,256.5 825.3,255.8 825.4,254.7 825.7,253.1 825.9,253.3 826.1,249.5 826.3,251.1 826.5,247.3 826.7,246.7 826.9,244.7 827.2,243.0 827.2,244.5 827.7,245.6 828.2,244.1 828.8,249.1 829.0,248.2 829.2,245.3 829.5,246.5 829.8,244.5 830.1,243.0 830.4,242.6 830.7,243.0 831.0,240.0 831.1,240.7 831.4,237.7 831.8,237.1 832.2,237.4 832.6,233.7 832.8,234.0 833.2,233.9 834.4,235.2 834.7,233.2 834.8,233.8 834.9,235.1 835.0,238.0 835.2,237.6 835.3,239.2 835.4,240.2 835.5,242.2 835.6,242.6 835.7,241.6 835.8,241.5 836.0,246.6 836.2,246.1 836.3,246.7 836.5,250.5 836.7,250.3 836.8,251.8 837.0,251.7 837.2,253.9 837.3,256.4 837.5,259.0 837.5,257.6 837.7,260.3 837.9,258.6 838.1,260.3 838.3,263.3 838.5,262.8 838.8,263.4 839.0,265.4 839.2,269.0 839.4,267.6 839.4,269.0 839.7,271.0 839.9,272.8 840.2,272.2 840.4,272.0 840.7,274.3 841.0,275.7 841.2,276.7 841.3,278.3 841.4,278.9 841.4,283.8 841.5,284.2 841.6,285.6 841.7,285.0 841.8,287.6 841.9,286.5 842.0,288.5 842.1,291.3 842.2,294.8 842.2,291.5 842.3,294.1 842.4,294.2 842.5,294.9 842.7,294.6 842.8,297.8 842.9,301.2 843.1,301.7 843.2,301.0 843.2,301.2 843.5,299.2 843.7,296.7 844.0,298.5 844.2,296.1 844.4,296.3 844.7,292.3 844.9,292.7 845.0,291.5 845.2,292.0 845.6,289.5 845.9,287.3 846.2,290.5 846.6,289.1 846.9,287.3 847.0,284.0 847.3,283.0 847.7,283.9 848.1,282.1 848.5,282.4 848.8,278.3 848.8,279.2 848.9,279.7 849.0,279.5 849.0,279.6 849.1,280.3 849.2,283.4 849.3,285.8 849.3,289.7 849.4,292.4 849.5,290.4 849.6,288.1 849.7,292.2 849.7,294.5 849.8,295.3 849.8,294.8 850.0,295.0 850.2,296.4 850.4,299.0 850.6,300.7 850.7,301.0 850.8,299.2 850.8,302.1 850.9,302.5 851.0,303.6 851.1,306.4 851.2,306.8 851.3,309.4 851.4,307.1 851.5,311.8 851.6,313.6 851.6,314.0 851.7,314.0 851.8,314.5 851.9,314.4 852.0,316.0 852.1,321.8 852.2,322.3 852.3,322.6 852.5,322.8 852.6,323.8 852.6,325.4 852.6,324.2 852.7,327.4 852.7,330.3 852.7,329.1 852.8,332.1 852.8,332.3 852.9,334.5 852.9,334.2 852.9,337.5 853.0,340.8 853.0,339.3 853.1,340.2 853.1,343.2 853.1,342.6 853.2,342.4 853.2,341.4 853.3,345.0 853.3,349.5 853.3,348.9 853.4,350.5 853.4,348.4 853.4,351.7 853.5,354.0 853.5,355.5 853.5,353.3 853.6,352.1 853.7,349.8 853.7,348.6 853.8,350.5 853.8,346.6 853.9,348.3 853.9,343.9 854.0,345.6 854.1,343.1 854.1,342.6 854.2,340.3 854.2,339.8 854.3,341.5 854.3,334.1 854.4,333.5 854.5,334.0 854.5,332.9 854.5,334.8 854.6,330.0 854.6,329.7 854.7,329.9 854.7,327.0 854.7,326.0 854.8,325.2 854.8,325.1 854.9,323.3 854.9,321.8 855.0,318.9 855.0,317.3 855.1,320.0 855.1,314.7 855.2,313.5 855.2,311.8 855.3,311.5 855.3,309.1 855.4,309.9 855.4,308.4 855.4,307.9 855.6,309.0 855.7,308.8 855.8,311.2 855.9,311.2 856.0,314.0 856.2,317.0 856.3,315.5 856.4,321.3 856.5,322.3 856.6,322.6 856.7,322.8 856.9,325.8 857.0,326.8 857.1,326.6 857.2,328.4 857.3,329.1 857.3,329.8 857.5,329.6 857.6,333.8 857.7,331.9 857.8,334.9 858.0,334.7 858.1,336.8 858.2,338.6 858.2,338.0 858.3,337.3 858.4,338.3 858.6,334.7 858.7,334.2 858.8,332.9 858.9,331.4 859.0,327.9 859.2,327.7 859.3,324.3 859.4,326.5 859.5,326.8 859.6,324.0 859.7,322.8 859.9,320.7 860.0,316.5 860.1,317.9 860.1,316.6 860.2,317.6 860.3,315.4 860.5,312.8 860.6,307.9 860.7,311.5 860.8,312.6 860.9,312.2 861.1,312.4 861.2,304.4 861.3,304.4 861.4,304.4 861.5,301.7 861.6,301.2 861.8,301.5 861.9,298.1 862.0,297.2 862.0,298.0 862.2,294.6 862.4,290.5 862.6,292.1 862.8,292.4 862.9,291.6 863.1,290.9 863.3,287.0 863.5,287.5 863.7,281.0 863.9,283.2 863.9,284.0 864.1,280.6 864.3,281.0 864.5,278.4 864.7,278.8 864.9,279.1 865.1,278.6 865.4,275.1 865.6,276.0 865.8,273.8 865.8,272.7 865.9,273.9 866.1,270.8 866.2,267.4 866.3,267.2 866.5,264.7 866.6,263.0 866.8,259.9 866.9,261.5 867.0,262.8 867.2,258.6 867.3,257.8 867.4,254.6 867.6,255.7 867.6,255.8 868.0,256.3 868.4,253.8 868.8,253.3 869.2,252.4 869.5,250.1 869.6,250.5 869.8,252.9 870.1,250.7 870.3,253.3 870.6,255.5 870.9,257.8 871.1,260.3 871.4,259.7 871.4,259.5 871.8,257.1 872.2,256.0 872.6,255.1 873.0,253.0 873.3,253.9 873.4,250.7 873.6,251.8 873.9,248.9 874.2,248.9 874.4,248.1 874.7,246.8 874.9,247.3 875.2,245.5 875.2,244.5 875.7,243.9 876.1,244.5 876.6,241.0 877.0,239.8 877.1,237.6 878.2,237.5 879.3,239.3 879.8,237.9 880.5,236.6 881.6,237.9 881.6,236.3 882.1,239.4 882.5,244.2 882.9,242.2 883.3,244.7 883.5,243.6 883.5,245.7 883.6,241.6 883.7,239.3 883.8,238.3 883.9,236.4 884.0,236.0 884.1,233.1 884.2,232.8 884.3,232.0 884.4,234.2 884.5,230.4 884.6,228.7 884.8,228.4 885.0,226.1 885.2,225.6 885.4,224.0 885.6,222.0 885.8,221.4 886.0,219.5 886.2,219.5 886.3,219.1 886.8,220.0 887.7,218.8 888.2,217.2 888.6,217.2 889.5,216.9 890.1,215.3 890.4,214.9 891.4,214.7 892.0,213.4 892.2,217.2 892.8,213.7 893.4,214.3 893.9,209.7 894.0,211.7 894.9,208.7 895.8,207.8 895.8,208.1 896.4,205.1 896.9,205.7 897.5,206.1 897.6,204.0 897.8,206.2 897.9,208.0 898.1,208.2 898.3,208.4 898.5,207.2 898.7,211.3 898.9,214.1 899.0,215.7 899.2,215.4 899.4,217.5 899.5,217.2 899.6,217.5 899.7,216.4 899.9,213.2 900.0,210.6 900.2,207.7 900.3,208.2 900.5,207.5 900.6,205.8 900.7,205.8 900.9,202.7 901.0,203.2 901.2,204.4 901.3,201.3 901.4,200.3 901.5,197.1 901.8,197.5 902.1,195.9 902.4,195.5 902.7,193.9 903.0,192.1 903.2,192.1 903.3,191.8 903.9,194.1 904.6,193.8 905.2,194.6 905.2,194.9 905.4,193.7 905.6,199.6 905.8,197.9 905.9,199.6 906.1,198.9 906.3,202.5 906.5,202.3 906.6,204.6 906.8,205.2 907.0,206.8 907.0,207.8 907.2,205.7 907.4,203.6 907.7,203.2 907.9,201.2 908.1,200.4 908.3,199.1 908.6,196.9 908.8,197.2 909.0,196.5 909.0,197.3 909.3,198.1 909.6,196.8 909.9,200.3 910.2,202.7 910.5,200.6 910.8,204.0 910.9,204.4 911.2,199.1 911.5,200.5 911.8,200.6 912.1,200.6 912.4,200.1 912.7,196.5 912.8,197.5 913.0,196.6 913.3,196.3 913.5,195.7 913.8,192.4 914.0,191.3 914.3,187.1 914.6,185.6 914.6,187.1 914.9,187.4 915.2,185.7 915.5,181.9 915.8,181.4 916.1,178.1 916.5,178.6 916.5,179.6 916.8,179.5 917.2,174.9 917.6,175.1 918.0,174.9 918.3,173.9 918.6,173.3 919.5,172.7 920.2,172.0 920.3,170.6 920.9,169.0 921.5,168.9 922.1,168.3 922.1,165.3 922.7,166.0 923.3,163.3 923.9,162.8 924.0,164.5 924.7,165.3 925.6,162.7 925.9,162.6 925.9,162.6 926.0,165.7 926.1,165.1 926.2,166.1 926.2,168.1 926.3,170.6 926.4,170.0 926.4,172.0 926.5,170.8 926.6,172.3 926.6,175.4 926.7,176.4 926.8,178.9 926.8,179.6 926.9,179.8 927.1,174.6 927.3,175.8 927.5,174.9 927.6,173.1 927.8,172.3 928.0,169.8 928.2,170.0 928.4,168.7 928.6,169.9 928.7,166.4 929.0,163.9 929.9,162.9 930.6,164.5 930.7,164.0 931.1,164.3 931.5,160.2 932.0,158.3 932.4,157.7 932.5,158.9 932.5,157.9 932.6,155.2 932.6,156.2 932.7,156.5 932.7,153.1 932.8,153.2 932.8,148.3 932.9,146.7 933.0,147.7 933.0,147.5 933.1,143.3 933.1,142.4 933.2,142.6 933.2,141.0 933.3,138.5 933.3,138.0 933.4,138.2 933.4,136.3 933.6,136.1 934.2,135.7 934.8,140.2 935.3,140.0 935.3,139.7 935.5,138.2 935.7,142.1 935.9,145.1 936.1,147.1 936.2,145.7 936.4,148.5 936.6,148.3 936.8,149.7 937.0,151.2 937.2,151.3 937.2,154.3 937.3,154.2 937.4,152.3 937.4,156.4 937.5,157.3 937.6,158.0 937.6,159.0 937.7,161.7 937.7,160.8" fill="none" stroke="#000" stroke-width="2" stroke-linejoin="round" stroke-linecap="round"/>
</svg>
</body></html>
